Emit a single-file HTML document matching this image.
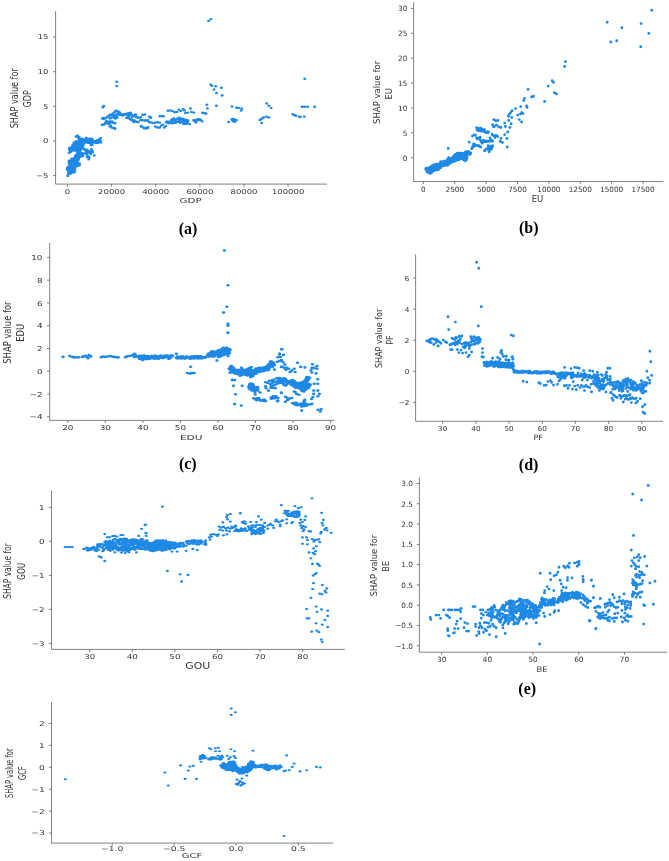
<!DOCTYPE html>
<html><head><meta charset="utf-8"><title>SHAP dependence plots</title>
<style>
html,body{margin:0;padding:0;background:#fff}
svg{display:block}
.t{font-family:"DejaVu Sans","Liberation Sans",sans-serif;fill:#333}
.c{font-family:"Liberation Serif","Times New Roman",serif;font-weight:bold;font-size:16px;fill:#000}
.p{stroke:#1e88e5;stroke-linecap:round;fill:none}
.ax{stroke:#4d4d4d;stroke-width:0.7;fill:none}
</style></head><body>
<svg width="669" height="861" viewBox="0 0 669 861">
<rect width="669" height="861" fill="#fff"/>
<g id="plot-a">
<path class="p" transform="scale(1.25,1)" stroke-width="2.4" d="M60.8 136.4h0M62 135.8h0M61.3 136.8h0M63.3 137h0M62.7 138.1h0M64.5 139h0M65.4 138.8h0M68.8 138h0M70 138.9h0M71.6 138.7h0M72.7 139h0M73.1 138.8h0M80.5 138.3h0M63.3 140.1h0M64 139.5h0M65 139.9h0M66.1 139.4h0M67 139.8h0M68.4 139.3h0M69.5 139.8h0M70.6 140.1h0M71.8 139.6h0M73.1 139.6h0M74 139.4h0M77.8 140.2h0M78.9 140.1h0M79.6 139.3h0M60.8 141.3h0M62.6 141.4h0M63.7 140.4h0M64.6 141.2h0M65.9 141.4h0M66.6 141h0M67.7 140.6h0M69.1 141.2h0M70 140.8h0M71.2 140.5h0M72.8 140.9h0M73.2 141.2h0M74.8 141h0M75.9 141.4h0M76.5 141.2h0M78 140.9h0M78.8 140.7h0M80.3 140.7h0M59.2 142.7h0M60.7 142.1h0M62 142.2h0M63.1 142.6h0M64.2 142.7h0M64.9 141.9h0M66.4 142.7h0M67.1 141.8h0M68.2 142.4h0M69.9 141.9h0M70.5 142.1h0M71.5 141.7h0M72.8 142h0M74.2 141.6h0M75.1 142.2h0M76.4 142.7h0M77.5 141.7h0M78.7 141.7h0M80 141.7h0M80.7 142.5h0M59.1 143.6h0M59.8 143.5h0M60.9 143.8h0M62 143.9h0M63.3 143.6h0M64.6 143.5h0M65.5 143h0M67 143.7h0M70.5 142.9h0M72.3 143.2h0M73.5 143.7h0M78.2 143h0M58.4 144.7h0M59.9 144.8h0M60.9 144.6h0M61.9 144.1h0M63 144.6h0M63.9 144.3h0M64.7 144.6h0M66.2 144.7h0M72.8 145h0M73.7 145h0M58 145.7h0M59.3 146.1h0M59.9 145.9h0M60.9 145.3h0M62.6 145.4h0M63.2 145.5h0M64.5 145.5h0M65.3 145.5h0M66.4 145.3h0M57.4 147.5h0M58.8 147h0M59.9 147.5h0M60.5 147.2h0M61.4 146.8h0M62.5 146.9h0M64.1 147.5h0M65.3 147.3h0M66.3 147.5h0M55.6 147.8h0M56.8 148h0M57.5 148.4h0M59.8 148.3h0M61.4 148.4h0M62.3 147.9h0M63.1 148.6h0M64.1 148.8h0M66 147.8h0M55.4 149.7h0M56.6 149.6h0M57.3 149.4h0M58.7 150h0M61 149.2h0M61.5 149h0M62.7 149.5h0M63.6 149.7h0M65 149.3h0M57 151.2h0M57.5 150.2h0M58.8 150.2h0M59.7 150.5h0M61.4 150.6h0M61.9 150.6h0M63.6 151.1h0M64.3 150.3h0M56.2 151.9h0M61.9 151.6h0M62.6 151.8h0M63.8 151.7h0M55.3 152.8h0M62 152.7h0M63.8 152.7h0M65.4 153h0M66.8 153.4h0M60.7 154.9h0M62.1 154.7h0M63.3 154.1h0M64 154.6h0M66.2 154.3h0M60.3 155.9h0M61.5 155.5h0M62 156h0M63.4 156h0M64.3 155.9h0M65.3 155h0M66.3 155.9h0M60.4 157.2h0M61.8 156.9h0M63.1 157.2h0M64.2 156.5h0M65 156.6h0M59.3 158h0M59.9 158.4h0M62.2 158.5h0M63.1 158.2h0M57.3 158.8h0M58.4 158.9h0M59.2 158.8h0M61 159.6h0M61.7 158.7h0M62.7 159.7h0M55.3 160.6h0M56.9 160.4h0M58.1 160.7h0M58.5 160.5h0M60.4 160.1h0M61.6 160.7h0M62.5 160.1h0M55.1 161.8h0M55.7 161.1h0M57 161.7h0M58.6 161.8h0M59.7 161.7h0M60.5 161.2h0M61.7 161.2h0M56.3 162.4h0M58.2 162.8h0M59 162.8h0M60.2 162.4h0M61.4 162.6h0M62.1 162.7h0M63.6 163.4h0M55.4 163.8h0M56.9 164.4h0M58.1 164.2h0M59.3 164.5h0M60.6 163.7h0M62 164h0M62.8 164.6h0M63.6 164.6h0M56 165h0M56.5 165.5h0M58.2 165.2h0M59.1 165.4h0M59.7 165.4h0M61.5 165.1h0M62.2 164.9h0M63.5 165.2h0M54.7 166.8h0M57.4 166.9h0M58 167h0M59.1 166.9h0M60.8 166h0M61.9 166h0M53.7 168h0M54.4 168.2h0M55.3 167.3h0M56.8 167.6h0M58 167.7h0M59 167.9h0M60.1 167.7h0M54.7 169.3h0M55.9 169.2h0M56.9 169.2h0M58.8 168.6h0M59.3 169.4h0M53.7 169.6h0M54.5 169.8h0M55.6 170.7h0M56.8 170.6h0M57.5 170.5h0M59.4 170.5h0M59.8 170.3h0M54.8 171.9h0M56.1 171.7h0M57.3 171h0M58.6 171.7h0M59.8 170.9h0M55.2 172.8h0M56.5 173h0M57.8 172.2h0M59.3 172.6h0M54.7 174.3h0M56.6 173.5h0M54.4 175.2h0M54.2 175.9h0M67.5 149.2h0M69.7 149.6h0M73.2 149.3h0M68.6 150.5h0M69.7 151.3h0M71.3 151.2h0M72.7 151.4h0M74.1 151.2h0M68.9 152.5h0M70.4 152.6h0M72.3 153h0M74 152.4h0M69 154.2h0M69.6 154.4h0M72.7 154.1h0M70.6 156.2h0M75.4 155.5h0M69.7 157h0M71.4 157.4h0M71 159.3h0M82.3 107.4h0M83 106h0M81.8 118.5h0M83.2 119.1h0M84.7 117.9h0M86.1 116.7h0M87.5 115.5h0M89 114.9h0M90.4 113.8h0M91.8 112h0M93.3 111h0M94.7 111.4h0M95.7 112.6h0M94.2 113.8h0M92.8 114.9h0M91.4 116.1h0M89.9 117.3h0M88.5 117.9h0M91.8 117.9h0M93.7 117.3h0M95.7 114.9h0M97.6 114.9h0M99.5 114.9h0M101.4 114.3h0M103.3 113.8h0M104.7 113.2h0M101.4 117.9h0M103.3 117.9h0M104.7 119.1h0M106.2 120.3h0M107.1 122.1h0M105.7 116.7h0M81.8 125.1h0M83.2 124.5h0M84.7 123.3h0M86.1 122.1h0M87.5 121.5h0M89 122.1h0M90.4 122.7h0M91.8 123.3h0M85.1 120.9h0M87 123.9h0M88.5 125.7h0M89.4 127.5h0M90.9 128.1h0M91.8 128.7h0M82.5 118h0M82.6 118.8h0M86.3 116.7h0M87.5 115.1h0M88.4 114.6h0M90.1 113.6h0M92.7 110.7h0M95.8 112.4h0M94 114h0M93 115.5h0M90.8 115.5h0M88 118.6h0M92.2 118.5h0M93.5 117.9h0M96 114.4h0M97.9 115.6h0M99.5 114.5h0M101.4 114.4h0M103.9 113.8h0M104.3 112.8h0M101.2 117.6h0M103.1 118.4h0M104.3 119h0M106.4 121h0M107.5 121.8h0M106.1 116.5h0M81.7 124.7h0M83.1 124.4h0M84.4 122.7h0M85.5 122.2h0M88 121.5h0M89.7 121.5h0M89.9 122.6h0M92.2 123.1h0M87.5 123.5h0M87.8 126.4h0M90.1 127.6h0M91.6 128h0M92 128.7h0M93.4 81.7h0M93.4 86.1h0M82.4 106.6h0M83 105.9h0M97.3 114.8h0M99.1 114.1h0M100.9 113.6h0M102.7 113.3h0M104.5 113h0M101.5 117.8h0M103.3 115.6h0M105.1 114.8h0M106.9 115.6h0M108.7 114.8h0M108.7 117.1h0M110.5 117.8h0M112.3 117.5h0M114.1 114.8h0M115.9 114.5h0M119.5 116.6h0M120.7 117.5h0M105.1 120.1h0M106.9 120.8h0M108.7 121.6h0M110.5 122h0M112.3 120.1h0M114.1 120.1h0M115.9 120.5h0M117.7 120.8h0M112.9 126.5h0M114.7 127.5h0M116.5 128h0M118.3 128h0M119.5 122.3h0M121.3 122.6h0M97.2 114.3h0M100.9 114.2h0M102.8 113.5h0M104.3 113.3h0M101.8 117.3h0M102.8 115.6h0M107.3 115.4h0M108.1 114.5h0M109 117h0M110.2 117.4h0M112.7 117.1h0M119.3 116.6h0M120.5 118.1h0M105.3 119.5h0M107.5 120.4h0M108.1 121.6h0M109.9 122h0M113.9 120.3h0M116 120.1h0M118.3 120.2h0M113 126h0M115.4 128.3h0M116.8 128.6h0M118.4 127.3h0M119.7 122.4h0M120.7 122.4h0M122.5 123.1h0M124.2 122.6h0M126 122.3h0M127.8 122.6h0M124.2 126.5h0M126 127.5h0M127.8 127.5h0M129 125.6h0M130.2 124.6h0M127.8 116.3h0M129.6 116h0M130.8 116.3h0M131.4 127.5h0M132.6 126.1h0M143.1 117.6h0M144 117.9h0M137.7 119.4h0M139 118.5h0M139.9 119.4h0M141.4 119h0M142 118.6h0M145.9 118.8h0M147.1 119.3h0M137.2 120h0M139.2 120.2h0M140.4 120h0M143.3 120.4h0M143.9 119.8h0M145.5 120.7h0M146.7 120.6h0M147.8 120.6h0M149 120h0M150.3 120.5h0M134 121.5h0M135.2 121.9h0M136.4 121.8h0M137.3 122h0M139.8 121.6h0M141.3 122.1h0M142.4 121.8h0M143.1 121.9h0M144.8 121.5h0M146.1 121.7h0M146.6 121.1h0M148.4 121.2h0M149.5 121h0M150.4 121h0M132.9 122.3h0M134.3 123h0M135.4 123.3h0M136.7 122.6h0M137.7 123.3h0M138.8 123h0M140.5 122.7h0M144.2 122.7h0M146.9 123h0M148 122.3h0M148.9 123h0M150.1 123.3h0M146.8 123.9h0M148.7 123.9h0M134.4 110.7h0M136.2 110.4h0M138 111.1h0M139.8 112.2h0M141.6 111.9h0M143.1 109.6h0M144.6 111.1h0M146.4 109.2h0M147.6 110.4h0M148.4 113h0M150.3 112.6h0M152.3 108.6h0M153.2 111.9h0M155.1 112.6h0M155.3 120.8h0M157.1 121.6h0M158.3 119.3h0M159.5 120.1h0M151.7 124.1h0M177.7 95.5h0M165.5 104.7h0M165.9 108.4h0M173.1 105.8h0M185.6 106.5h0M189.2 107.8h0M190.9 107.9h0M193.4 108.4h0M193 110.5h0M152.4 108.4h0M162 112.8h0M163.7 113h0M164.8 113.8h0M154.9 120.1h0M156.6 119.9h0M157.8 119.6h0M159.5 119.3h0M160.7 119.9h0M161.6 121.2h0M156.6 122.4h0M182.9 122h0M185.4 119.1h0M186.7 118.9h0M187.9 119.6h0M189.2 120.1h0M186.7 121.2h0M187.9 121.7h0M185.9 120.6h0M166.9 20.9h0M168.7 19.1h0M168.7 84.8h0M169.6 85.7h0M172.6 86.3h0M177.1 87.7h0M171.2 89.5h0M173.2 93h0M177.8 95.3h0M243.8 78.7h0M213.3 103.4h0M215.1 105.8h0M216.9 108.1h0M241.7 106.7h0M243.8 106.7h0M246.2 106.7h0M251.7 106.7h0M234.2 114.3h0M235.6 115.2h0M236.7 115.7h0M239.2 116.6h0M240.3 117h0M243.5 116.6h0M208 120h0M209.4 118.8h0M210.8 117.5h0M213 116.6h0M215.1 117.5h0M209.4 122.9h0"/>
<path class="ax" d="M55.6 11.2V184.1H327M67.4 184.1v2.6M111.6 184.1v2.6M155.7 184.1v2.6M199.9 184.1v2.6M244 184.1v2.6M288.1 184.1v2.6M55.6 37h-2.6M55.6 71.7h-2.6M55.6 106.3h-2.6M55.6 141h-2.6M55.6 175.6h-2.6"/>
<text class="t" font-size="6.7" text-anchor="middle" transform="translate(67.4,194) scale(1.27,1)">0</text><text class="t" font-size="6.7" text-anchor="middle" transform="translate(111.6,194) scale(1.27,1)">20000</text><text class="t" font-size="6.7" text-anchor="middle" transform="translate(155.7,194) scale(1.27,1)">40000</text><text class="t" font-size="6.7" text-anchor="middle" transform="translate(199.9,194) scale(1.27,1)">60000</text><text class="t" font-size="6.7" text-anchor="middle" transform="translate(244,194) scale(1.27,1)">80000</text><text class="t" font-size="6.7" text-anchor="middle" transform="translate(288.1,194) scale(1.27,1)">100000</text><text class="t" font-size="6.7" text-anchor="end" transform="translate(48.5,39.4) scale(1.27,1)">15</text><text class="t" font-size="6.7" text-anchor="end" transform="translate(48.5,74.1) scale(1.27,1)">10</text><text class="t" font-size="6.7" text-anchor="end" transform="translate(48.5,108.7) scale(1.27,1)">5</text><text class="t" font-size="6.7" text-anchor="end" transform="translate(48.5,143.4) scale(1.27,1)">0</text><text class="t" font-size="6.7" text-anchor="end" transform="translate(48.5,178) scale(1.27,1)">−5</text>
<text class="t" font-size="7.4" text-anchor="middle" transform="translate(190.6,203.4) scale(1.4,1)">GDP</text>
<text class="t" font-size="8.1" text-anchor="middle" transform="translate(18.1,98.3) scale(1.27,1) rotate(-90)">SHAP value for</text>
<text class="t" font-size="8.1" text-anchor="middle" transform="translate(30.7,98.8) scale(1.27,1) rotate(-90)">GDP</text>
<text class="c" text-anchor="middle" x="188" y="233.5">(a)</text>
</g>
<g id="plot-b">
<path class="p" transform="scale(1,1)" stroke-width="2.9" d="M465.6 151.6h0M467.9 151.8h0M468.6 151.5h0M457.1 153.4h0M458.3 153.1h0M459.3 153.1h0M461.5 153.2h0M462.2 153.2h0M464.3 153.4h0M465.3 153.4h0M466.4 152.5h0M468.6 153.3h0M469.9 153.5h0M470.8 153h0M455.2 154.6h0M456.4 154.2h0M457.9 154.1h0M459 154.6h0M460.9 154.6h0M461.9 154.6h0M462.9 153.7h0M464.2 153.9h0M466.3 154.5h0M467.1 154.4h0M470 154.6h0M454.6 155.3h0M455.6 155.8h0M456.6 155.4h0M457.9 155h0M459.4 155.2h0M461.5 155.1h0M462.2 155.2h0M463.7 154.8h0M465.4 155h0M467.2 154.9h0M453.2 156.7h0M455.1 156.8h0M456.7 156.5h0M458.2 156.2h0M459.2 156.1h0M460.9 156.7h0M462.2 156.2h0M463.3 157h0M465 156.7h0M466.3 156.8h0M467 156.2h0M448.6 157.8h0M449.6 158.2h0M451.9 158.3h0M454.1 157.5h0M456.1 157.5h0M458 158.2h0M460.2 158h0M461.6 157.8h0M462 157.8h0M463.8 157.4h0M465.2 158.2h0M467 158.2h0M448.4 158.8h0M449.1 159.1h0M450.3 158.6h0M452.5 159h0M453.9 159.6h0M454.5 158.7h0M456.1 158.6h0M457.4 159.1h0M459.3 158.9h0M460.5 158.9h0M462.9 159h0M465.1 158.7h0M465.8 158.9h0M447.3 159.7h0M448.5 160.7h0M450.4 160.2h0M451.1 160.7h0M452.6 159.7h0M454.4 160.1h0M455.8 160.7h0M456.5 160.1h0M458.6 159.9h0M463.7 159.9h0M465.1 160.7h0M466.4 159.9h0M440.7 161.8h0M443.6 161.3h0M444.7 161.3h0M446 161.4h0M448.2 160.9h0M448.8 161.9h0M450.9 161.9h0M451.8 162h0M453.2 161.7h0M454.6 160.9h0M440.5 162.4h0M441.4 162.9h0M442.7 162.4h0M444.8 162.8h0M445.7 163.2h0M446.9 163h0M449.1 162.2h0M450.3 163h0M450.9 162.4h0M436.3 164.1h0M437.5 164.3h0M439.8 163.8h0M440.8 163.5h0M442.3 164h0M443.2 164h0M445.1 163.5h0M446.5 164.4h0M448.9 163.5h0M434.1 164.7h0M435.5 165h0M436.9 165.3h0M439 165.4h0M439.7 165.1h0M442.1 164.7h0M443.5 165.4h0M444 165.6h0M446.8 165.4h0M448.1 164.9h0M431.6 166.4h0M432.3 165.8h0M433.5 166.5h0M435.3 166.8h0M436.4 166.5h0M437.5 166.2h0M439.3 166h0M441 166h0M442.2 165.9h0M443.4 165.9h0M429.2 167.8h0M430.6 167.3h0M431.7 167.9h0M434.3 168h0M435.7 167.3h0M437.9 167.8h0M439.2 167.4h0M440.6 167.7h0M425.8 168.4h0M426.8 168.2h0M428 169h0M429.5 169.3h0M431.5 168.9h0M432.4 168.7h0M433.7 169h0M435 169.2h0M437 168.4h0M438.9 168.8h0M425.9 169.6h0M427.8 170.4h0M428.6 169.7h0M430.4 169.6h0M431.4 170.5h0M432.7 170.5h0M434.4 170.5h0M436.2 169.9h0M437.5 169.5h0M438.6 169.5h0M427.1 171.2h0M428.6 171.2h0M430.2 170.9h0M431 171.5h0M433 171h0M433.6 171.1h0M427.3 172h0M428.7 172.7h0M430 172.9h0M431.4 172.8h0M430 173.4h0M448.2 148.5h0M469.2 142.1h0M472.4 136.1h0M474.2 134.9h0M475.4 135.3h0M476.6 137.9h0M477.2 139.1h0M479 137.9h0M480.2 137.3h0M476.6 127.8h0M477.8 129h0M479 128.4h0M480.8 128.1h0M482 129h0M477.2 130.2h0M479 130.8h0M480.8 130.5h0M482.6 130.2h0M483.8 131.4h0M485.6 132h0M487.3 132h0M488.5 132h0M484.4 129.6h0M481.4 140.9h0M482.6 142.1h0M484.4 141.5h0M486.2 140.9h0M487.9 141.5h0M489.7 140.9h0M491.5 140.3h0M490.1 137.9h0M480.8 141.5h0M473.6 143.9h0M474.8 144.5h0M473 145.7h0M474.2 146.3h0M472.4 147.5h0M471.8 148.7h0M476 145.1h0M477.2 145.7h0M479 145.7h0M480.2 146.9h0M485 150.5h0M486.5 149.3h0M487.9 148.7h0M489.1 151.7h0M490.3 149.9h0M489.7 147.5h0M491.5 146.9h0M492.5 145.7h0M488.2 145.7h0M491.5 148.7h0M492.7 124.8h0M493.3 126.6h0M492.1 134.3h0M493.3 135.5h0M552.2 80.8h0M553.5 82.3h0M548.2 86.1h0M554.4 92.7h0M556.5 93.9h0M544.6 101.4h0M528.1 89.4h0M531.6 96.9h0M533.5 96.2h0M524.5 98.4h0M523.6 100.6h0M520.7 106.6h0M526.6 105.9h0M527.1 107.4h0M515.6 108.6h0M521.9 112.6h0M523 113.6h0M520.4 114.1h0M517.7 115.1h0M512.1 110.7h0M510.6 112.6h0M509.1 114.5h0M508.4 116.3h0M511.7 117.5h0M519.2 119.6h0M521.6 122h0M508.7 120.5h0M493.8 119.6h0M495.7 120.8h0M497.9 120.5h0M492.7 124.6h0M494.2 126.8h0M496.4 125h0M498.7 126.8h0M500.9 127.5h0M504.7 123.1h0M505.4 126.5h0M511.1 123.8h0M509.9 127.5h0M507.7 132h0M504.7 134.6h0M506.9 138.5h0M507.2 147h0M480.7 129h0M482.2 130.5h0M484.2 131.6h0M486 132.8h0M488.2 132.5h0M481.5 131.3h0M492 134.6h0M494.2 135.8h0M496.1 135.5h0M497.6 136.5h0M494.9 137.6h0M490.2 138.5h0M500.9 138.5h0M500.2 141.4h0M502.4 142.5h0M480 139.5h0M481.5 141.4h0M483.7 140.3h0M486 141.7h0M488.2 141.4h0M490.5 141.4h0M482.2 143.2h0M492.7 141h0M486 149.2h0M488.2 147.7h0M490.5 146.5h0M492.7 145.9h0M490.5 148.5h0M489 151.5h0M484.5 150.7h0M480.7 147h0M492 147.7h0M651.7 10.3h0M607.2 22.2h0M621.9 27.7h0M641.1 23.6h0M648.8 33.4h0M616.7 40.7h0M610.8 42h0M640.7 46.8h0M565.4 61.6h0M564.6 66.5h0"/>
<path class="ax" d="M413.6 2.2V181.5H663.4M423.4 181.5v2.6M454.8 181.5v2.6M486.2 181.5v2.6M517.5 181.5v2.6M548.9 181.5v2.6M580.3 181.5v2.6M611.6 181.5v2.6M643 181.5v2.6M413.6 8.4h-2.6M413.6 33.2h-2.6M413.6 58.1h-2.6M413.6 83h-2.6M413.6 107.9h-2.6M413.6 132.8h-2.6M413.6 157.8h-2.6"/>
<text class="t" font-size="7.3" text-anchor="middle" transform="translate(423.4,191.7) scale(1,1)">0</text><text class="t" font-size="7.3" text-anchor="middle" transform="translate(454.8,191.7) scale(1,1)">2500</text><text class="t" font-size="7.3" text-anchor="middle" transform="translate(486.2,191.7) scale(1,1)">5000</text><text class="t" font-size="7.3" text-anchor="middle" transform="translate(517.5,191.7) scale(1,1)">7500</text><text class="t" font-size="7.3" text-anchor="middle" transform="translate(548.9,191.7) scale(1,1)">10000</text><text class="t" font-size="7.3" text-anchor="middle" transform="translate(580.3,191.7) scale(1,1)">12500</text><text class="t" font-size="7.3" text-anchor="middle" transform="translate(611.6,191.7) scale(1,1)">15000</text><text class="t" font-size="7.3" text-anchor="middle" transform="translate(643,191.7) scale(1,1)">17500</text><text class="t" font-size="7.3" text-anchor="end" transform="translate(407.4,11.1) scale(1,1)">30</text><text class="t" font-size="7.3" text-anchor="end" transform="translate(407.4,35.9) scale(1,1)">25</text><text class="t" font-size="7.3" text-anchor="end" transform="translate(407.4,60.8) scale(1,1)">20</text><text class="t" font-size="7.3" text-anchor="end" transform="translate(407.4,85.7) scale(1,1)">15</text><text class="t" font-size="7.3" text-anchor="end" transform="translate(407.4,110.6) scale(1,1)">10</text><text class="t" font-size="7.3" text-anchor="end" transform="translate(407.4,135.5) scale(1,1)">5</text><text class="t" font-size="7.3" text-anchor="end" transform="translate(407.4,160.5) scale(1,1)">0</text>
<text class="t" font-size="8.5" text-anchor="middle" transform="translate(537.5,202.1) scale(1,1)">EU</text>
<text class="t" font-size="8.5" text-anchor="middle" transform="translate(380.4,92.4) scale(1,1) rotate(-90)">SHAP value for</text>
<text class="t" font-size="8.5" text-anchor="middle" transform="translate(391.9,93.7) scale(1,1) rotate(-90)">EU</text>
<text class="c" text-anchor="middle" x="528.7" y="233">(b)</text>
</g>
<g id="plot-c">
<path class="p" transform="scale(1.3077,1)" stroke-width="2.6" d="M48.2 356.9h0M53.3 356h0M55.4 356.9h0M56.8 357.4h0M58.8 357.3h0M60.2 357.3h0M62.9 356.9h0M64.3 356.4h0M65.4 355.7h0M66.6 356.9h0M67.3 358.3h0M68.1 355.1h0M69.5 356.4h0M77.3 357.3h0M78.7 356.5h0M80.1 356.9h0M82.1 356.5h0M84.2 356h0M85.6 356.5h0M87.3 356.9h0M89.3 357.3h0M90.4 357.4h0M95.8 357.3h0M97.2 356.4h0M98.6 356h0M100.6 355.5h0M102 354.8h0M103.4 354.2h0M104.1 356h0M102.7 356.9h0M105.4 356.9h0M106.8 357.8h0M108.2 358.7h0M108.9 360.1h0M106.6 358.8h0M106.6 355.9h0M107.1 358.1h0M107.4 356.6h0M107.6 357.6h0M107.9 356.1h0M108.2 356.9h0M108.5 359h0M108.9 357.4h0M109 356.5h0M109.2 355.7h0M109.6 356.6h0M109.9 358.6h0M110.2 357.5h0M110.4 355.6h0M110.7 356h0M111.1 358.9h0M111.4 356.2h0M111.8 358.2h0M112 358.6h0M112.3 358.2h0M112.5 358.9h0M112.9 356.1h0M113.2 358h0M113.4 357.3h0M113.7 358.7h0M113.9 358.3h0M114.2 358.5h0M114.6 357.1h0M114.8 358.6h0M115.2 357.2h0M115.3 356.6h0M115.7 356.1h0M116.1 356.4h0M116.4 356.5h0M116.7 357.9h0M116.8 357.2h0M117.2 357.5h0M117.4 356.2h0M117.7 358.6h0M118 355.7h0M118.4 357.9h0M118.7 356.1h0M118.9 355.7h0M119.2 356.4h0M119.4 358.4h0M119.6 357.2h0M120.1 356.3h0M120.2 358.4h0M120.6 357.9h0M120.7 356.7h0M121.1 357.7h0M121.3 358.7h0M121.6 357.9h0M121.9 356.3h0M122.4 355.9h0M122.5 357.8h0M122.9 355.6h0M123.3 355.9h0M123.3 356.6h0M123.8 357.9h0M123.9 356.5h0M124.2 356.9h0M124.7 357.9h0M125 358h0M125.3 357.8h0M125.5 356.1h0M125.8 356.4h0M126 356.9h0M126.5 355.8h0M126.7 356.7h0M127 355.9h0M127.4 356.2h0M127.6 356.8h0M127.7 357.3h0M128 355.5h0M128.3 355.9h0M128.6 357.5h0M129 358.7h0M129.4 358.7h0M129.5 356.8h0M129.8 357.3h0M130.2 358h0M130.5 356.2h0M130.7 357.1h0M130.9 355.4h0M131.3 355.7h0M131.6 356.1h0M131.7 355.9h0M132.1 356h0M134.7 357.7h0M135.2 357.8h0M135.7 356.5h0M135.8 358.4h0M136.4 356.9h0M137.1 357.5h0M137.4 357.5h0M137.8 356.7h0M138.2 358.4h0M138.6 358.1h0M139 356.5h0M139.5 357.7h0M139.7 356.4h0M140.4 357.4h0M140.7 358.4h0M141.1 358.5h0M141.4 358.2h0M141.9 358.5h0M142.5 356.5h0M142.6 356.8h0M143.3 357.3h0M143.6 357h0M144 357.2h0M144.3 357.6h0M144.8 358.4h0M145.3 358.4h0M145.8 358.6h0M146.1 356.6h0M146.6 358.5h0M147.1 357.5h0M147.4 356.7h0M147.9 357.5h0M148.1 356.3h0M148.7 358.5h0M148.8 358.1h0M149.4 356.5h0M149.7 358h0M150.4 356.2h0M150.7 356.2h0M151.2 356.9h0M151.6 358.5h0M151.9 358.5h0M152.2 356.3h0M152.8 356.2h0M153 357.1h0M153.6 356.4h0M153.8 358.1h0M154.3 358.4h0M155 357h0M155.2 357.3h0M155.7 357.5h0M156.1 357.5h0M156.7 357.2h0M156.9 357.7h0M157.2 356.7h0M102.8 353.9h0M134.8 353.7h0M174.2 332.7h0M165.9 360.5h0M145.8 366.8h0M143.3 373h0M145.4 373.6h0M146.7 373h0M148.5 373h0M170.3 348.3h0M171.1 347.8h0M172.8 348.4h0M173.5 347.9h0M174.3 348.5h0M168.5 350h0M169.6 349h0M170.7 349.7h0M171.6 349.5h0M173.5 349.1h0M175.2 349.2h0M175.9 349.4h0M162.5 351.2h0M166.4 351h0M166.9 350.4h0M168.6 351.2h0M169.5 351h0M170.7 350.7h0M171.6 350.4h0M174 350.9h0M175.9 350.2h0M161.6 351.5h0M162.6 352.3h0M163.8 351.6h0M164.4 352.3h0M165.6 351.9h0M166.3 352h0M168 352h0M168.7 352.2h0M169.5 352.3h0M170.6 352h0M172.3 351.7h0M173.1 352.4h0M173.8 352h0M175.2 351.8h0M159.6 353.5h0M161.1 352.8h0M161.8 353h0M163.3 353.4h0M163.8 353.2h0M165.2 353.1h0M165.9 353.5h0M167.4 353.7h0M168.4 353.3h0M169.7 353.1h0M170.2 353.5h0M171.6 353.1h0M172.8 353h0M173.3 352.7h0M174.9 352.8h0M175.6 353.2h0M158.9 354.5h0M160.1 353.8h0M161.7 354.7h0M162.6 354.8h0M163.5 354.3h0M165.3 354.5h0M166.9 354.5h0M167.6 354.8h0M168.9 354.8h0M169.7 354.1h0M171 354.9h0M171.9 354.2h0M172.9 354.3h0M173.9 354.4h0M159 356h0M159.5 355.1h0M160.5 356h0M162.1 355.2h0M162.7 356.1h0M164.2 355.8h0M165.4 355.3h0M165.8 355.1h0M167 355.2h0M168.7 355.3h0M169.5 355.8h0M174.4 355.9h0M159.5 356.6h0M160.2 356.3h0M162.1 356.4h0M163.7 356.5h0M167.1 357h0M168.1 356.7h0M171.6 250.5h0M174.3 285.3h0M173.5 306.8h0M171 312.6h0M174.3 323.9h0M174.3 325.7h0M174.3 332.9h0M206.7 361.6h0M207.6 361.6h0M206.8 363h0M208.1 363h0M209 362.6h0M205.1 364.6h0M206.1 364.1h0M207.5 364h0M208.7 364.4h0M209.6 363.8h0M204.5 365.7h0M205.9 364.8h0M207.3 365.9h0M207.5 365.7h0M209.1 365.8h0M209.8 365.1h0M176.3 366.2h0M177 366.1h0M203.5 366.7h0M203.9 367h0M205.5 366.1h0M206.2 366.2h0M207.5 366.4h0M208.2 366.9h0M176 367.6h0M176.5 367.4h0M178.3 367.7h0M178.6 367.7h0M191 367.9h0M192.2 367.3h0M197.1 368.3h0M198.1 367.7h0M199.6 368h0M200.2 367.9h0M202.2 367.3h0M203.6 367.2h0M205.1 367.8h0M205.4 367.3h0M175.2 368.7h0M176 369.5h0M177.4 368.9h0M178.1 368.8h0M179.6 369.4h0M188.8 369.3h0M190.1 368.6h0M191.1 368.5h0M195.4 368.8h0M196.6 368.8h0M197.8 369.4h0M199 369h0M201.2 369.2h0M202.3 368.8h0M202.7 368.6h0M204.3 368.7h0M205.5 369h0M205.9 368.6h0M176 369.7h0M176.6 370.4h0M178.3 370.5h0M178.9 370.6h0M180 370.1h0M182.3 369.7h0M184 370.3h0M185.8 370.1h0M186.3 369.8h0M187.5 370.5h0M190 370.6h0M190.7 369.8h0M191.9 369.7h0M192.6 370.4h0M193.8 370.5h0M195.2 370.6h0M196.4 370h0M197.2 370.3h0M198.2 370h0M199.2 370h0M201.8 370.6h0M202.7 370.2h0M203.5 370.3h0M204.7 369.9h0M205.4 370h0M176.7 371.6h0M177.6 371.5h0M178.5 371.8h0M180 371.4h0M180.2 371.3h0M181.8 371.8h0M182.9 371.3h0M184 371.5h0M184.8 371.8h0M185.8 371.1h0M187.4 371h0M188.3 371.1h0M189.2 371.8h0M190.5 371.3h0M191.4 371.8h0M193.2 370.9h0M194.6 371.5h0M195.4 371.5h0M196.8 371.6h0M198.7 371.8h0M200.3 371.1h0M201.7 371.1h0M175.8 372.8h0M176.5 372.5h0M177.8 372.2h0M178.9 372.8h0M180.5 373.1h0M181.4 372.9h0M181.9 372.6h0M183.5 373.1h0M184.2 372.6h0M185.7 372.7h0M186.4 373h0M187.2 372.5h0M188.8 372.1h0M190.8 372.5h0M191.5 372.5h0M192.5 372.9h0M193.6 372.3h0M195 372.6h0M195.9 373.1h0M197.2 372.2h0M179.7 373.4h0M180.6 373.4h0M182 374.3h0M183.9 373.4h0M185.3 374.3h0M185.7 373.8h0M187.3 373.7h0M189.4 373.4h0M190.4 373.7h0M192.2 373.9h0M193.5 374.1h0M194.5 374.1h0M195.8 373.7h0M183.5 374.8h0M184.5 374.9h0M185.2 374.8h0M187.3 374.6h0M188.9 375.1h0M189.3 375.4h0M191.1 374.5h0M191.5 375.3h0M193 374.7h0M193.7 374.6h0M183.7 375.8h0M192.3 376.4h0M193.3 376.2h0M191.6 377.1h0M184.7 367.9h0M209.9 369.5h0M212 361.8h0M212.4 357.2h0M213.8 353.9h0M215.2 349.3h0M214.5 356.7h0M215.2 360.4h0M215.2 366.9h0M177.6 379.9h0M179.4 380.1h0M178.6 385.8h0M185.2 385.8h0M180.1 394.3h0M179.4 404.1h0M184.5 405.5h0M198.9 392.5h0M212 401.3h0M203.1 382.3h0M204.6 382.7h0M206 380.9h0M208.1 380.4h0M209.5 379.5h0M211.7 378.1h0M213.8 378.1h0M215.2 379h0M212.4 380.9h0M213.8 381.3h0M210.2 381.8h0M208.5 382.7h0M206.7 384.1h0M207.4 386h0M208.8 385.5h0M210.2 385h0M211.7 383.7h0M213.1 383.2h0M214.5 382.7h0M203.1 386.4h0M203.5 388.3h0M205.3 390.6h0M207.1 387.8h0M208.8 387.8h0M210.6 388.3h0M215.2 392.9h0M190.9 384.2h0M191.7 383.6h0M193.2 384h0M190.8 385.2h0M192.2 385.4h0M193.8 385.4h0M190.3 386.5h0M191.9 386.4h0M193.7 386.6h0M195.2 387.2h0M196.8 387.1h0M190.3 387.8h0M191.4 387.7h0M192.6 387.6h0M193.2 388h0M195.6 387.8h0M197.1 387.7h0M190.9 389.1h0M192.2 389.7h0M193 389.1h0M195.1 388.7h0M196 388.7h0M197.2 389.5h0M192.6 390.5h0M193.2 390.4h0M194.8 390.7h0M195.9 390.1h0M197.1 390.5h0M194.9 392.3h0M195.2 394.5h0M208.9 396.2h0M211 396.3h0M207.3 397.9h0M207.8 397.1h0M209.2 397.5h0M210 397.3h0M211.6 397.9h0M193.9 398.2h0M195.2 399.1h0M196 398.6h0M197.3 398.2h0M198.1 398.3h0M207.5 398.7h0M208.4 398.5h0M210.1 398.3h0M195.7 399.8h0M196.4 400.3h0M198 399.8h0M199.2 400.6h0M200.3 400.4h0M201 400h0M202 399.5h0M201.5 400.9h0M203.2 400.9h0M215.8 349.3h0M213.7 353.9h0M216.8 354.9h0M213.3 356.7h0M215.1 360h0M214 360.9h0M216.5 362.3h0M217.9 364.6h0M215.8 366.9h0M217.6 367.9h0M219.3 367.9h0M220.8 368.8h0M218.6 369.7h0M221.8 372h0M223.2 370.6h0M225 368.8h0M225.7 372h0M227.5 362.8h0M230 366.9h0M233.2 367.4h0M238.9 364.3h0M242.4 366h0M238.5 367.9h0M240.3 367.9h0M242.4 368.8h0M237.8 370.2h0M238.5 372.5h0M241.7 373.4h0M243 379.3h0M240.3 383.7h0M243 383.7h0M239.9 390.6h0M243 390.6h0M239.9 393.9h0M244.2 393.9h0M243.1 396.2h0M239.2 397.1h0M238.2 399h0M215.1 392.5h0M225.7 392h0M226.8 393.9h0M228.6 394.8h0M225 391.5h0M212.6 398h0M212.6 400.8h0M218.3 396.7h0M219.7 398h0M221.5 398.5h0M223.2 398h0M220 399.9h0M218.3 401.8h0M230.7 410.6h0M243.1 409.7h0M245.6 409.2h0M244.9 411.5h0M234.7 377h0M236 377.2h0M213.6 378.7h0M215.1 378.9h0M217.1 378.4h0M218.2 378.9h0M234.2 378h0M235.2 378.6h0M236.8 377.8h0M213.6 380h0M214.5 379.3h0M215.5 379.9h0M216.2 379.8h0M218.7 379.4h0M223.9 380h0M233.8 379.7h0M234.8 379.2h0M235.9 379.6h0M213.7 380.7h0M216.3 381.2h0M217.4 381.1h0M218.2 381.3h0M219.4 381.1h0M221 381.4h0M221.5 381.1h0M222.6 380.9h0M224.4 381.4h0M225.3 381.4h0M233.1 380.8h0M234.1 381.2h0M235.2 380.7h0M213 381.9h0M214 381.8h0M215.7 382.6h0M216.5 382.7h0M219.3 382.8h0M219.9 382.2h0M221.4 381.8h0M222.4 382.4h0M223.9 382.4h0M225.8 382.1h0M228.9 382.7h0M231.3 382h0M232.9 382.6h0M233.5 382.2h0M234.8 382.8h0M216.8 384.1h0M219.4 384.1h0M220.6 383.2h0M221.7 383.4h0M223.2 383.4h0M223.7 383.2h0M225.5 383.4h0M226.1 383.4h0M227.6 383.4h0M228.9 383.9h0M229.9 383.3h0M230.8 384h0M232.2 383.6h0M233.1 383.7h0M234.3 383.7h0M235.5 383.5h0M216.9 384.6h0M217.4 385.1h0M218.7 385.4h0M222.6 384.7h0M223.4 385.3h0M225 384.4h0M225.8 385.4h0M227.3 385.3h0M227.8 384.5h0M229.6 385.1h0M230.4 385.1h0M231.7 384.6h0M232.3 384.9h0M233.6 384.8h0M234.8 384.9h0M236 384.6h0M237.4 384.6h0M224.2 385.8h0M225 386.4h0M226.1 386.4h0M228.3 385.9h0M230.1 386.7h0M231.2 385.8h0M232.4 386.4h0M233.3 386.2h0M234.7 386.7h0M235.7 386.7h0M236.7 386.1h0M225.9 387.7h0M226.9 387.4h0M228.1 387.8h0M228.9 388h0M230.5 388h0M231.6 388h0M232.6 387.2h0M234.1 387.9h0M235 387.7h0M235.9 388h0M228.7 388.4h0M229.4 388.4h0M230.8 388.8h0M232.2 389.1h0M233.4 388.7h0M234 388.5h0M230.7 390.2h0M231.6 390.2h0M234 389.6h0M230.8 390.9h0M232.4 391.4h0M233.1 399.9h0M232.5 401h0M225 402.7h0M226.5 402.7h0M232.4 402.1h0M223.7 403.3h0M224.9 403.9h0M225.9 404h0M227 404.2h0M228.4 404h0M230.2 403.8h0M231.8 403.3h0M232.6 403.2h0M234 403.8h0M236.3 404.2h0M237.9 404.2h0M238.6 403.8h0M226.5 405h0M227.3 405.2h0M229.2 404.7h0M230.2 405.2h0M230.7 405.1h0M232.4 404.9h0M233.2 405.2h0M234.2 404.9h0M235.8 404.5h0M230.5 406.4h0M231.8 406.1h0M232.9 406h0M234.4 405.8h0"/>
<path class="ax" d="M49.7 242.8V420.4H334.1M67.8 420.4v2.6M105.3 420.4v2.6M142.9 420.4v2.6M180.4 420.4v2.6M218 420.4v2.6M255.5 420.4v2.6M293.1 420.4v2.6M330.6 420.4v2.6M49.7 257.4h-2.6M49.7 280.2h-2.6M49.7 303h-2.6M49.7 325.7h-2.6M49.7 348.5h-2.6M49.7 371.2h-2.6M49.7 394h-2.6M49.7 416.8h-2.6"/>
<text class="t" font-size="6.8" text-anchor="middle" transform="translate(67.8,429.8) scale(1.3,1)">20</text><text class="t" font-size="6.8" text-anchor="middle" transform="translate(105.3,429.8) scale(1.3,1)">30</text><text class="t" font-size="6.8" text-anchor="middle" transform="translate(142.9,429.8) scale(1.3,1)">40</text><text class="t" font-size="6.8" text-anchor="middle" transform="translate(180.4,429.8) scale(1.3,1)">50</text><text class="t" font-size="6.8" text-anchor="middle" transform="translate(218,429.8) scale(1.3,1)">60</text><text class="t" font-size="6.8" text-anchor="middle" transform="translate(255.5,429.8) scale(1.3,1)">70</text><text class="t" font-size="6.8" text-anchor="middle" transform="translate(293.1,429.8) scale(1.3,1)">80</text><text class="t" font-size="6.8" text-anchor="middle" transform="translate(330.6,429.8) scale(1.3,1)">90</text><text class="t" font-size="6.8" text-anchor="end" transform="translate(42.5,259.9) scale(1.3,1)">10</text><text class="t" font-size="6.8" text-anchor="end" transform="translate(42.5,282.7) scale(1.3,1)">8</text><text class="t" font-size="6.8" text-anchor="end" transform="translate(42.5,305.5) scale(1.3,1)">6</text><text class="t" font-size="6.8" text-anchor="end" transform="translate(42.5,328.2) scale(1.3,1)">4</text><text class="t" font-size="6.8" text-anchor="end" transform="translate(42.5,351) scale(1.3,1)">2</text><text class="t" font-size="6.8" text-anchor="end" transform="translate(42.5,373.7) scale(1.3,1)">0</text><text class="t" font-size="6.8" text-anchor="end" transform="translate(42.5,396.5) scale(1.3,1)">−2</text><text class="t" font-size="6.8" text-anchor="end" transform="translate(42.5,419.3) scale(1.3,1)">−4</text>
<text class="t" font-size="7.3" text-anchor="middle" transform="translate(191.2,440.1) scale(1.45,1)">EDU</text>
<text class="t" font-size="8.4" text-anchor="middle" transform="translate(11,332.6) scale(1.3,1) rotate(-90)">SHAP value for</text>
<text class="t" font-size="8.4" text-anchor="middle" transform="translate(23.8,332.8) scale(1.3,1) rotate(-90)">EDU</text>
<text class="c" text-anchor="middle" x="187.8" y="468.5">(c)</text>
</g>
<g id="plot-d">
<path class="p" transform="scale(1,1)" stroke-width="2.9" d="M481.3 306.7h0M448 316.7h0M455.4 322.1h0M448.7 329.6h0M478.3 325.9h0M511.2 335.1h0M513.4 335.9h0M426.7 341.1h0M428.7 340.4h0M430.5 339.2h0M432.3 338.6h0M434.2 339.2h0M435.7 340.1h0M437.6 340.7h0M439.4 341.9h0M440.9 343.3h0M438.2 346h0M433.8 344.5h0M431.2 342.6h0M429.3 342.2h0M443.2 340.1h0M445.4 341.9h0M446.9 342.6h0M436.1 342.6h0M452.1 338.1h0M454.4 338.9h0M456.6 338.1h0M458.9 336.6h0M461.9 335.9h0M460.4 339.2h0M458.1 341.1h0M455.9 341.9h0M453.6 343.3h0M451.4 344.1h0M449.9 344.8h0M455.1 344.8h0M457.4 343.3h0M459.6 342.6h0M461.9 344.1h0M464.1 343.3h0M466.3 342.6h0M468.6 343.3h0M470.8 341.9h0M473.1 341.1h0M475.3 340.4h0M477.5 339.6h0M479 338.1h0M480.5 339.6h0M479.8 341.9h0M478.3 343.3h0M476.1 343.3h0M473.8 344.1h0M471.6 344.8h0M469.3 346.3h0M467.1 344.8h0M464.8 345.6h0M463.3 347.1h0M470.8 336.6h0M473.8 336.6h0M476.5 338.1h0M472 339.2h0M450.6 349.6h0M452.1 349.6h0M457.4 349.6h0M461.1 350.1h0M458.9 352.6h0M462.6 353.1h0M466 352.6h0M469.3 348.6h0M471.6 352h0M469.3 355.3h0M468.1 356.8h0M464.8 347.8h0M478.6 337.4h0M482.5 348.6h0M482.5 352.6h0M482 356.8h0M483.5 357.1h0M492.5 358.3h0M497.7 357.5h0M500 359h0M501.5 350.5h0M500.7 352.3h0M501.9 353.8h0M503.4 356.5h0M506.4 356.1h0M505.9 359.8h0M508.9 360.2h0M512.4 356.8h0M513 359h0M513.4 369.5h0M514.9 371.7h0M517.2 372.5h0M519.4 371.7h0M452.8 338.9h0M454.9 339.2h0M455.8 337.4h0M459.4 336.2h0M461.5 336.4h0M459.1 340.4h0M451.8 344.2h0M457.4 344h0M459.2 341.9h0M465.1 342.8h0M472.8 340.4h0M475 341.1h0M478.1 340.2h0M479.2 338.8h0M480.3 339.2h0M479.2 342h0M478.4 342.8h0M476.9 343.1h0M474.6 344.2h0M470.6 345.2h0M469.3 346h0M467.5 344.5h0M465.8 346.2h0M471 336.9h0M474.3 337.4h0M476.3 337.6h0M471.3 338.5h0M429.4 340.4h0M436.5 339.4h0M438.3 340.9h0M430.4 341.9h0M484 362.4h0M484.5 362.5h0M486.7 361.9h0M487.6 362.3h0M490.5 361.6h0M491.1 361.5h0M492.6 362.1h0M493.9 362.3h0M495.8 361.6h0M498.6 361.8h0M499.3 361.9h0M483.9 362.8h0M487.3 363.3h0M489.2 363.4h0M491.2 363.3h0M491.9 363.4h0M493.3 363.3h0M495.1 362.9h0M496 362.7h0M497.6 362.7h0M498.8 363.3h0M501.9 363.4h0M502.6 362.7h0M505.2 363.3h0M509 362.7h0M511.4 363.4h0M512.9 363h0M485.2 364.4h0M486 364.5h0M489.3 364.6h0M490.5 364.4h0M491.9 363.9h0M492.4 364.5h0M494 364.6h0M495.7 364.8h0M496.4 364.1h0M498 364h0M499.8 364.3h0M500.8 364.5h0M502.3 364.7h0M504.1 364.2h0M504.9 364h0M506.8 364.7h0M508.3 364.1h0M509.1 364.1h0M510.4 364.5h0M513.1 363.9h0M484.4 365.6h0M485.8 365h0M486.8 365h0M487.9 365.1h0M489.7 365.5h0M492.4 365.2h0M493.2 365h0M495.2 365.2h0M496.1 365.8h0M497.8 365.8h0M499.3 366h0M500.8 365.8h0M501.6 365.7h0M502.9 365.6h0M504.7 366h0M505.9 365.2h0M507.4 365.7h0M510.3 365.6h0M510.9 366h0M512.3 365.1h0M486.5 366.3h0M487.8 366.3h0M493.4 366.3h0M494.3 366.5h0M498.1 366.6h0M500.1 366.4h0M501.5 366.7h0M502 366.7h0M505.1 366.6h0M506.5 366.7h0M507.3 366.8h0M509.6 367.2h0M510.4 366.3h0M512.2 367.2h0M513 366.4h0M476.6 262.3h0M478.8 268.3h0M500.5 363.3h0M501.6 362.9h0M507.5 363.5h0M510.1 363.8h0M511.8 363.5h0M501.6 364.5h0M503 364.8h0M503.9 364.5h0M505.9 364.6h0M507.4 364.5h0M508.1 364.5h0M510.1 364.2h0M510.8 364.8h0M512.4 364.5h0M500.2 365.8h0M503.5 366.3h0M505.4 365.7h0M506.6 366.3h0M507.4 366.1h0M508.8 365.3h0M511.9 365.3h0M513.6 366.2h0M499.7 367.1h0M503.2 366.7h0M505.6 367.3h0M506.7 366.8h0M508.6 367.3h0M510.2 367h0M511.1 367.6h0M501.5 351h0M502.2 354h0M506 356.2h0M506.7 359.9h0M512 357h0M512.7 359.2h0M509 359.9h0M500 359.2h0M513.9 372h0M514.5 372.4h0M514.8 371h0M515.2 371h0M516 370.9h0M516.3 371.1h0M516.7 371.5h0M517.4 371.9h0M517.5 371.2h0M518 372.5h0M518.8 372.4h0M519.3 372.3h0M519.8 372.4h0M519.9 372.6h0M520.5 372.4h0M521 371.7h0M521.4 371.7h0M521.8 371h0M522.5 372.5h0M523 372.3h0M523.3 372.4h0M523.6 372.3h0M524.2 371.2h0M524.5 372h0M525 371.8h0M525.7 371.7h0M525.9 371.9h0M526.4 371.4h0M526.9 371.7h0M527.3 372.3h0M528.1 371.8h0M528.5 373h0M528.7 371.2h0M529.5 372.8h0M529.9 371.3h0M530.2 372.9h0M530.9 372.8h0M531.1 372.9h0M531.6 372.6h0M532 373.2h0M532.6 372.6h0M532.9 372.4h0M533.6 372.4h0M533.9 372.7h0M534.4 371.7h0M534.8 372.6h0M535.2 371.6h0M535.6 372.5h0M536.3 372.3h0M536.6 372.1h0M537.2 371.4h0M537.5 373.4h0M538 371.9h0M538.5 372.5h0M538.9 372.3h0M539.5 373.1h0M539.8 372h0M540.5 373.4h0M541 372.3h0M541.5 372h0M541.7 372.4h0M542.5 373h0M542.7 372.8h0M543.4 371.9h0M543.8 372.1h0M544.1 372h0M544.5 372.2h0M544.9 372.3h0M545.4 373.1h0M546.1 371.4h0M546.7 371.9h0M547 372.7h0M547.4 372.1h0M547.9 371.8h0M548.6 371.7h0M549 372h0M549.2 372.4h0M549.6 371.8h0M550.2 372.5h0M550.9 373.7h0M551 372.7h0M551.5 373.4h0M552 373.6h0M552.6 371.9h0M552.8 372.2h0M553.7 372h0M554 372.5h0M554.4 373.4h0M554.8 373.3h0M555.5 373.8h0M557.8 373.6h0M559.5 373.4h0M561.4 372.8h0M564 372.9h0M566.5 372.7h0M568.7 373.3h0M569.9 374h0M571.2 372.9h0M573.1 373h0M578.1 373h0M581.3 373.9h0M584.8 373.8h0M556.7 374.3h0M559 374.4h0M560.3 374.9h0M562.5 374.5h0M563.7 374.3h0M565 375.2h0M567.4 374.5h0M570.8 374.9h0M572.2 374.5h0M574.6 375.4h0M576 375.5h0M576.8 375.4h0M579.8 375.4h0M581.4 374.3h0M582.2 374.4h0M584.3 374.2h0M586.3 374.9h0M587.3 375.5h0M589.6 375.1h0M594.3 374.8h0M597.3 375.5h0M557.8 376.9h0M559.5 376.5h0M562.8 375.9h0M565.2 376.3h0M566.4 375.8h0M571.5 375.7h0M573.4 376.6h0M574.7 376h0M576.7 376.6h0M578.1 376.6h0M580.1 376.3h0M581.4 376.3h0M583.1 375.9h0M584.5 376.8h0M587.3 376.4h0M588.5 376.6h0M591.4 376.8h0M593.6 375.7h0M595.4 376.9h0M596.8 376.3h0M558.6 377.1h0M561 377.4h0M562.5 377.3h0M563.4 377.7h0M565 378.2h0M571.1 377.5h0M571.9 377.9h0M583.7 377.8h0M585.7 377.2h0M589.1 377.5h0M591.7 378.2h0M592.1 377.8h0M593.8 377.6h0M595.6 377.8h0M598.4 378.4h0M599.1 378.5h0M595.9 379.9h0M597.5 379h0M598.3 380.3h0M599.2 381.4h0M564.6 367.4h0M571 368.6h0M574.7 367.4h0M577 367.7h0M579.2 368.2h0M583.7 370.7h0M589.7 370.7h0M592.7 371.2h0M523.2 381.3h0M526.9 382.1h0M538.9 382.8h0M540.4 383.6h0M544.1 385.4h0M546.3 385.1h0M547.8 381.6h0M550.5 380.6h0M551.6 382.4h0M553.5 385.1h0M557.5 384.2h0M559 380.9h0M560.5 379.4h0M564.3 385.7h0M566.5 385.4h0M569.5 385.4h0M568 388.3h0M572.5 389.1h0M573.2 381.6h0M574.7 386.1h0M576.2 389.8h0M577.7 385.4h0M580 387.6h0M581.5 385.4h0M583.7 386.9h0M584.5 390.6h0M585.9 385.4h0M588.2 386.9h0M589.7 387.6h0M591.5 391.6h0M591.2 384.2h0M593.4 381.6h0M595.7 385.4h0M597.9 387.6h0M600 388.3h0M582.2 380.1h0M587.4 380.1h0M649.9 351.2h0M650.8 361.7h0M646.9 371.3h0M651.6 375.4h0M647.8 377.8h0M649.6 380.2h0M646.6 382.6h0M649.6 383.2h0M607.7 368.3h0M609.9 368.3h0M591.6 391.9h0M599.3 390.4h0M605.9 391.9h0M586.2 386.2h0M631 380.2h0M628 378.4h0M610.7 392.8h0M613.1 394.6h0M614.9 396.4h0M611.9 398.2h0M613.1 400.3h0M616.7 397.6h0M619.7 395.2h0M622.1 396.4h0M624.5 395.2h0M626.9 395.8h0M629.2 395.2h0M626.3 398.2h0M628 399.4h0M630.4 398.2h0M632.8 398.4h0M635.2 398.8h0M623.3 402h0M631.4 402.6h0M635.8 402.9h0M637.6 401.2h0M640.2 398.8h0M620.9 398.2h0M644.8 404.7h0M642.4 406.8h0M643 412.3h0M644.8 413.5h0M597.3 372.3h0M606.6 372.2h0M596.3 375.5h0M598.3 374.9h0M601.4 374.6h0M602.3 375.5h0M605.5 374.6h0M595.8 376.4h0M598.1 377.5h0M606 377.1h0M607.2 375.9h0M610.3 376.5h0M597.1 377.7h0M598.2 378.4h0M602.4 379.3h0M604.4 378.2h0M607.2 378.3h0M610.4 379.2h0M594.7 379.7h0M597.9 380.5h0M600.7 380.9h0M604 381h0M607.7 379.9h0M610.1 379.7h0M596.7 382.1h0M599.8 383h0M603.2 381.5h0M610.3 382.1h0M593.9 383.8h0M595.3 384h0M597.4 384.2h0M601.2 384.8h0M603.4 384.8h0M606.1 384.9h0M607.9 383.2h0M610 384.6h0M598.6 385.9h0M600.1 386.3h0M603 386.2h0M604.5 386.5h0M597.7 387.2h0M600.3 388.6h0M602.2 387.5h0M603.9 388.3h0M600.9 388.8h0M603 389.1h0M625.8 379.3h0M628.2 379.7h0M617.7 381.5h0M623.4 380.5h0M625.2 380.5h0M627.1 381.7h0M629.7 381.7h0M630.6 380.6h0M633.4 381.7h0M641.3 380.8h0M611.3 383.1h0M612.7 382.7h0M615.2 382.1h0M616.2 383.1h0M618.5 382.3h0M620.9 383h0M622.3 383h0M625 382h0M625.7 383.5h0M630.6 383.1h0M632.3 383.5h0M634 383.3h0M635.3 382.9h0M641.8 383.6h0M644.1 382.2h0M646.6 383.5h0M611.5 383.8h0M613.2 383.9h0M616.3 384.9h0M619.5 383.8h0M621 384.8h0M622.6 384h0M626 384.3h0M627.4 384.3h0M630.8 384.7h0M633.7 383.9h0M636.6 385.1h0M640 384.6h0M643.6 385.1h0M646.3 385.2h0M612.6 385.5h0M614.5 386.3h0M618.8 385.8h0M621.3 386h0M624 385.8h0M627 386.6h0M627.5 386.7h0M631.5 386.8h0M633.1 385.6h0M638.3 386h0M642 386.5h0M642.8 386h0M645.7 385.5h0M614.3 387.4h0M615.8 387.5h0M617 387.4h0M619 387.6h0M622.2 387.9h0M623 387.2h0M626 388.5h0M629.5 388h0M633.5 387.5h0M635.3 387.6h0M636.6 387.8h0M637.8 388.5h0M640.4 387.9h0M642.7 387.8h0M643.6 387.4h0M612.7 389.3h0M615.2 389h0M619.2 388.9h0M620.5 388.8h0M623.1 389.6h0M630.4 389.1h0M631.6 388.7h0M635.2 388.7h0M637.9 389h0M640.8 389.2h0M643.1 389.7h0M619.1 390.5h0M621.9 391.2h0M622.9 390.9h0M627.7 391.5h0M633.4 390.3h0M636.2 390.5h0M640.6 390.5h0M644.5 391.1h0M645.9 391.4h0M641.9 392.6h0M643.3 393h0M611.1 392.5h0M613.1 394.6h0M614.8 395.9h0M617.1 397.2h0M620.4 395.9h0M623.8 395.6h0M626.1 396.1h0M630.1 394.6h0M625.1 399.1h0M628.6 399.4h0M630.5 398.8h0M632.4 397.7h0M636.2 398.1h0M621.2 397.5h0"/>
<path class="ax" d="M415.6 254.4V421.3H662.8M442.7 421.3v2.6M475.9 421.3v2.6M509.1 421.3v2.6M542.3 421.3v2.6M575.4 421.3v2.6M608.6 421.3v2.6M641.8 421.3v2.6M415.6 278h-2.6M415.6 309.1h-2.6M415.6 340.2h-2.6M415.6 371.3h-2.6M415.6 402.4h-2.6"/>
<text class="t" font-size="6.9" text-anchor="middle" transform="translate(442.7,430.7) scale(1.05,1)">30</text><text class="t" font-size="6.9" text-anchor="middle" transform="translate(475.9,430.7) scale(1.05,1)">40</text><text class="t" font-size="6.9" text-anchor="middle" transform="translate(509.1,430.7) scale(1.05,1)">50</text><text class="t" font-size="6.9" text-anchor="middle" transform="translate(542.3,430.7) scale(1.05,1)">60</text><text class="t" font-size="6.9" text-anchor="middle" transform="translate(575.4,430.7) scale(1.05,1)">70</text><text class="t" font-size="6.9" text-anchor="middle" transform="translate(608.6,430.7) scale(1.05,1)">80</text><text class="t" font-size="6.9" text-anchor="middle" transform="translate(641.8,430.7) scale(1.05,1)">90</text><text class="t" font-size="6.9" text-anchor="end" transform="translate(409.4,280.5) scale(1.05,1)">6</text><text class="t" font-size="6.9" text-anchor="end" transform="translate(409.4,311.6) scale(1.05,1)">4</text><text class="t" font-size="6.9" text-anchor="end" transform="translate(409.4,342.7) scale(1.05,1)">2</text><text class="t" font-size="6.9" text-anchor="end" transform="translate(409.4,373.8) scale(1.05,1)">0</text><text class="t" font-size="6.9" text-anchor="end" transform="translate(409.4,404.9) scale(1.05,1)">−2</text>
<text class="t" font-size="7.4" text-anchor="middle" transform="translate(538.2,440.4) scale(1.1,1)">PF</text>
<text class="t" font-size="8" text-anchor="middle" transform="translate(381.8,338.4) scale(1,1) rotate(-90)">SHAP value for</text>
<text class="t" font-size="8" text-anchor="middle" transform="translate(393,340) scale(1,1) rotate(-90)">PF</text>
<text class="c" text-anchor="middle" x="528.6" y="469.6">(d)</text>
</g>
<g id="plot-f">
<path class="p" transform="scale(1.3913,1)" stroke-width="2.3" d="M46.8 547.1h0M48.7 547.1h0M50.3 547.1h0M51.9 547.1h0M75.3 534.1h0M77.1 537.4h0M78.7 537.1h0M80.9 536.2h0M82.5 535.9h0M84.1 536.6h0M86.8 535.1h0M88.4 535.1h0M89.5 538.6h0M76.1 541.1h0M71.8 544.1h0M70.2 544.5h0M104.2 525.1h0M101.8 528.8h0M105.1 533.2h0M99.7 535.9h0M105.1 535.9h0M71.2 556.5h0M72.8 557.5h0M75.3 561h0M87.3 552.6h0M90 553.1h0M92.7 552.3h0M98.1 552.3h0M82.5 552.3h0M79.3 550.8h0M75.3 541.9h0M76.6 543h0M71.5 544.3h0M73.2 544.1h0M75.2 544.5h0M76.6 544.6h0M77.9 543.8h0M70.2 545.4h0M71.8 545.5h0M74.4 546.1h0M76.5 545.5h0M62.6 547.7h0M65.7 547.8h0M67.3 547h0M69.7 547.4h0M70.7 546.8h0M71.7 546.6h0M73.2 547.5h0M76.4 547.6h0M77.4 546.4h0M60.1 549.1h0M61.2 548.6h0M63.6 548.4h0M64.5 549.5h0M66 548.8h0M67.7 548.5h0M68.6 548.9h0M70.3 549.5h0M71.1 549.6h0M74.3 548.7h0M74.9 549h0M76.8 548.6h0M62.7 550.4h0M63.7 550.4h0M65.7 549.8h0M68.2 550.6h0M69.5 551h0M73.9 551.2h0M74.5 550.1h0M81.4 539.8h0M82.8 538.9h0M84.5 540.2h0M85.9 539.5h0M87.1 538.9h0M89 538.9h0M90.9 538.8h0M93.7 540.1h0M94.9 539.4h0M96.4 539.4h0M98.2 539.9h0M100.8 540.1h0M101.4 539.1h0M102.6 539.4h0M78.8 540.6h0M80.5 541.3h0M81.4 540.6h0M84 540.9h0M84.8 541.5h0M85.7 541h0M87.4 540.5h0M88.2 541.2h0M89.2 541.2h0M90.8 540.3h0M92.4 540.3h0M94.5 541.5h0M95 540.7h0M96.7 541.3h0M99 540.5h0M100.5 540.6h0M101.5 541.1h0M102.3 540.6h0M104.8 540.7h0M105.7 540.3h0M76.7 542.5h0M77.1 542h0M78.5 542.2h0M80.2 542.4h0M81.5 542.3h0M82.4 542.9h0M83.7 542.4h0M85.6 541.6h0M87.8 542.8h0M89.1 542.8h0M90.3 541.6h0M91.6 542.2h0M92.9 542.1h0M93.5 542.1h0M94.8 542.9h0M95.8 542.4h0M97.4 541.6h0M98.7 542.3h0M99.1 542.3h0M100.8 542.1h0M101.5 542.4h0M102.8 541.9h0M103.7 542.5h0M104.8 542.9h0M106.2 542.3h0M107.3 542.8h0M109.5 542.8h0M111.2 542.9h0M112.2 542.7h0M77 543.5h0M78.6 543.1h0M79.8 543.4h0M80.8 543.3h0M81.8 543.1h0M85.2 543.3h0M86.2 543.6h0M87.7 543.9h0M88.2 543h0M89.9 543.5h0M90.7 543.8h0M93.2 543.1h0M94 543.7h0M95.2 544.3h0M96.5 544.4h0M97.5 543.4h0M99.2 544.3h0M100.1 543.1h0M101 543.1h0M102.5 544.2h0M103.4 543.1h0M105 543.3h0M105.8 543.3h0M106.5 544.2h0M108.4 544.2h0M108.8 543.4h0M110.5 543.8h0M112 543h0M78.8 544.7h0M79.9 544.6h0M81.4 545.3h0M82.2 545.7h0M83.2 544.7h0M85.7 544.6h0M86.8 544.4h0M87.9 545h0M89.3 545.3h0M90.5 545.2h0M91.5 544.6h0M92.7 545.1h0M93.6 545.3h0M95.7 545.2h0M98.7 545.6h0M99.8 544.8h0M100.2 544.9h0M101.6 545.4h0M102.4 545.6h0M104.4 544.5h0M106.4 545.5h0M107.3 545h0M108.2 544.4h0M109.5 544.9h0M111 545.5h0M111.8 545.1h0M76.9 546.2h0M78.5 546.9h0M79.5 546.9h0M80.1 547h0M81.6 546.7h0M82.3 547.1h0M83.5 545.8h0M84.6 547.1h0M87.3 547h0M88.3 546.4h0M89.4 546.7h0M90.4 546.5h0M92 546.8h0M93.1 545.9h0M95.8 546.3h0M96.4 546.9h0M98.1 547h0M99.1 546.5h0M99.6 545.8h0M102.5 546h0M103.9 546h0M104.5 547h0M106.1 546.7h0M106.5 546.8h0M107.8 546.4h0M108.9 547.1h0M110 546.1h0M111.4 546.4h0M76.7 547.6h0M77.6 548.6h0M79.5 548.5h0M80.5 548.1h0M82.6 548.4h0M83.7 547.8h0M84.4 548.3h0M85.6 547.7h0M87.2 547.6h0M87.7 548.2h0M89.1 548.2h0M90.1 548.3h0M91.8 548.3h0M92.6 548h0M93.8 548.4h0M95 547.6h0M95.5 547.4h0M97.2 548.4h0M98.6 548.1h0M99.1 548.4h0M101 547.4h0M101.5 547.8h0M104 548h0M104.7 547.9h0M106.3 547.3h0M107.1 548.4h0M108.3 548.5h0M110 548.2h0M111.1 547.7h0M111.8 548.1h0M77.9 549.9h0M81.1 549.7h0M83.7 548.7h0M85.2 549.5h0M86.4 549.8h0M86.9 549.4h0M89.4 548.8h0M91.1 549.3h0M93.5 548.6h0M94 549.6h0M95.3 548.8h0M96.9 549.8h0M97.3 549h0M100.8 549h0M102.3 548.9h0M103.7 548.9h0M104.6 549.7h0M106 548.9h0M106.6 549.4h0M107.7 549.3h0M109.7 549.4h0M110.4 548.6h0M111.7 549.6h0M84.4 550.2h0M85.3 550.6h0M86.7 550.1h0M88.3 550.7h0M89.5 550.5h0M91.4 551.2h0M92.8 550.6h0M107.4 550.2h0M108.3 550.7h0M109.6 551.2h0M110.5 551.1h0M111.7 550.7h0M116.8 506.7h0M104.8 524.7h0M104.8 532.9h0M105.1 535.9h0M138.6 549h0M141.8 550.1h0M133.8 550.8h0M127.3 551.6h0M123.6 551.6h0M151.5 534.7h0M153.1 534.1h0M154.7 534.7h0M156.3 535.9h0M150.4 537.4h0M151 539.6h0M152 536.6h0M156.9 534.4h0M160.6 535.4h0M163.1 534.4h0M157.4 526.6h0M159 527.7h0M160.6 526.9h0M162.2 528.4h0M163.8 527.7h0M165.5 528.7h0M167.1 528.1h0M168.7 526.9h0M157.9 529.9h0M160.1 530.6h0M162.8 530.6h0M164.9 531.4h0M168.7 531.1h0M171.4 531.4h0M173.5 531.1h0M175.1 530.6h0M174.6 529.1h0M172.4 529.9h0M169.8 529.1h0M166.5 526.6h0M169.2 525.7h0M163.3 514.9h0M165.5 514.2h0M162.8 517.2h0M163.5 519.4h0M165.5 521.7h0M160.1 522.4h0M172.8 513.2h0M174.1 522.4h0M175.1 523.2h0M176.1 521.7h0M120.3 571h0M129.5 574.3h0M135.1 575h0M130.5 581.5h0M112.1 540.6h0M113.1 540.7h0M113.5 540.5h0M115.3 540.5h0M116 540.7h0M117 540.3h0M118 540.6h0M119.2 540.7h0M111.1 541.6h0M111.9 541.8h0M113.5 541.4h0M114.1 541.7h0M115.9 541.7h0M116.6 541.8h0M118.1 542.1h0M118.9 541.9h0M120.1 542.2h0M122 541.9h0M110.4 542.8h0M111.5 542.8h0M112.8 542.7h0M114.1 543.6h0M114.6 542.9h0M115.7 542.7h0M117 543.4h0M118.2 542.8h0M119.1 542.6h0M120.1 543.5h0M121.1 543.1h0M122.1 543.1h0M123.8 542.5h0M125.1 543.5h0M125.8 542.6h0M110.4 544.8h0M111.1 544.6h0M112.5 544.9h0M113.2 544.8h0M114.2 544.1h0M115.8 544.4h0M116.9 545h0M117.6 544.8h0M118.7 544.6h0M119.5 543.8h0M121.7 544.5h0M123.2 544.4h0M123.7 544.9h0M125.5 544.8h0M125.9 544h0M111 546.2h0M111.9 546h0M113.2 546.2h0M114.2 546h0M114.8 545.4h0M115.7 546.2h0M116.7 545.5h0M118.2 545.5h0M119.3 545.6h0M120.6 545.5h0M121.8 546.2h0M122.1 546.2h0M123.4 545.2h0M124.5 545.3h0M126.2 546.1h0M111.2 546.5h0M112.2 547.5h0M113.3 547.1h0M114.6 547.4h0M115.4 546.7h0M116.2 546.6h0M117.9 546.7h0M118.9 547.1h0M120.2 547.1h0M121.8 546.9h0M122.8 546.9h0M124.2 547.4h0M125.5 547.3h0M110.7 548.4h0M111.8 548.1h0M112.7 548.9h0M113.7 548.2h0M115.2 547.8h0M115.9 548.6h0M117.3 548.6h0M117.9 548.1h0M119.1 547.7h0M121.5 547.9h0M122.4 548.3h0M123.2 548.3h0M124.6 548.2h0M125.8 548h0M110.4 549.1h0M110.8 550h0M112.6 549.8h0M113.3 549.9h0M114.7 549.5h0M115.4 549.7h0M116.9 550.1h0M118 549.8h0M118.5 550.1h0M119.8 549.5h0M121.9 549.3h0M116.3 550.7h0M117.1 550.6h0M134.5 541.2h0M135.8 540.8h0M136.9 541.1h0M138.1 540.5h0M139.7 540.2h0M141.2 541h0M142.4 540.7h0M144.2 540.3h0M145.1 541.3h0M147.9 540.4h0M129.8 542.8h0M131.3 542.9h0M133.8 541.8h0M135.7 541.7h0M137 541.6h0M137.7 542.2h0M139.1 542h0M140.8 541.8h0M142.7 542.5h0M143.9 542.2h0M145.3 542.1h0M147.4 541.8h0M126.1 544h0M127.3 544h0M128.7 543.4h0M129.5 544.3h0M130.9 543.4h0M131.7 543.6h0M134.6 543.2h0M136 544.2h0M137.6 543.3h0M139.1 543.9h0M140 543.3h0M141.5 544.5h0M142.7 544.6h0M144.5 543.6h0M146.8 544.3h0M147.9 543.4h0M124.7 545.2h0M126 544.9h0M127.3 545.1h0M128.4 545.4h0M129.7 545.9h0M131.9 544.8h0M132.5 545.9h0M133.9 545.6h0M148 544.8h0M125.7 547.6h0M127 547h0M128.7 546.8h0M129.5 546.5h0M131.7 546.7h0M125.3 548.6h0M224.2 498.3h0M202.2 505.2h0M172.7 513.4h0M185.8 516.4h0M212 506.2h0M214.4 508.2h0M216.5 507.3h0M231.2 512.8h0M232.4 520h0M231.5 523h0M232.1 525.4h0M234.5 527.9h0M233.3 529.5h0M235.1 530.4h0M238 532.8h0M230.9 532h0M230.4 533.6h0M169.5 526.2h0M174.2 522.1h0M175.4 521.3h0M176.6 523.8h0M180.1 522.1h0M187.8 519.7h0M190.2 523h0M192.5 528.7h0M184.3 522.1h0M173 530.4h0M192.5 525.4h0M194.3 524.6h0M196.1 525.4h0M197.9 521.3h0M199 520.5h0M200.2 522.1h0M202 521.3h0M201.4 524.6h0M201.4 526.2h0M203.2 520.5h0M196.7 527.9h0M194.3 523.8h0M198.5 519.7h0M206.1 519.3h0M206.1 523.3h0M209.7 523h0M210.3 522.1h0M216.2 519.7h0M217.4 522.1h0M215.6 523h0M216.2 525.4h0M217.9 526.2h0M219.7 527.1h0M216.8 527.9h0M218.5 529.5h0M217.9 531.2h0M222.1 531.2h0M223.3 531.5h0M219.7 516.4h0M219.1 520h0M217.4 537.4h0M220.3 537.4h0M220.9 540.2h0M224.4 539.1h0M226.2 540.2h0M228 539.7h0M229.2 539.4h0M225.6 541.5h0M229.8 542.2h0M217.4 543.8h0M220.9 544.3h0M227.4 546.3h0M225.4 548.4h0M222.1 552.5h0M225 552.9h0M226.8 551.2h0M226.2 554.2h0M223.5 558.3h0M180.9 525.7h0M181.7 525.4h0M183.6 525.3h0M184.5 524.9h0M186.6 524.9h0M188.7 525.5h0M178.5 526.5h0M180.3 527.6h0M181.5 527.7h0M183.7 526.9h0M187.3 527.8h0M188.8 527.5h0M190.2 526.9h0M179.1 528.1h0M180.4 528.8h0M185.2 529.4h0M186.1 529h0M187.8 528.3h0M188.9 529.2h0M175.5 530.6h0M177.4 530.9h0M179.2 529.7h0M180.1 530h0M181.4 530.3h0M182.3 530.2h0M183.8 531h0M185.8 529.9h0M186.8 529.7h0M188.3 530.7h0M189.7 530.4h0M181 532.2h0M181.9 531.8h0M184 531.8h0M184.8 532.5h0M186.3 531.6h0M187.1 531.6h0M189.4 532h0M180.9 534.2h0M182.7 533.1h0M183.7 534.1h0M185.8 533.4h0M187.4 533.9h0M189.3 532.9h0M169.3 530.4h0M169.6 530.8h0M170.1 529.9h0M170.7 530.1h0M171.3 530h0M172.1 530.1h0M172.5 530.3h0M173.4 528.4h0M173.7 530.5h0M174.4 529.2h0M174.7 530.4h0M175.2 529.9h0M176.2 528.4h0M176.4 528.8h0M204.8 510.8h0M205.9 511h0M207.3 510.8h0M211.1 512h0M212.7 511.5h0M214.2 511.5h0M215.1 512h0M204.3 513.3h0M205.3 512.7h0M206.5 512.4h0M209.7 512.7h0M211.3 512.9h0M212.2 513.3h0M213.5 512.8h0M214.8 513.4h0M206.2 514.9h0M207.1 514h0M208.5 514.1h0M210.2 514h0M211.1 515.3h0M213.3 514.9h0M214.1 515.5h0M215.2 514.5h0M207.1 515.9h0M208.5 516.1h0M209.8 516h0M211 516.1h0M211.9 516.9h0M213.3 517h0M214.8 516.4h0M224.6 564h0M228.1 563.7h0M228.9 564.7h0M229.8 565.8h0M227.4 573.1h0M226.6 574.1h0M225.1 575.5h0M225.3 583.2h0M231.7 584.9h0M224.7 589.1h0M234.9 588.5h0M233.6 590.9h0M234.3 592.6h0M229.8 593.7h0M231.5 594.3h0M223.5 597.9h0M227.2 606.6h0M220.4 608.9h0M231.1 609.5h0M235.5 610.7h0M227.9 611.8h0M235.5 616h0M220.6 618.3h0M222.1 618.3h0M233.5 620h0M227.2 623.3h0M231.6 624.7h0M235.5 627h0M224 631.7h0M227.7 630.6h0M229.2 632.2h0M231 639.7h0M231.6 642.1h0"/>
<path class="ax" d="M51.5 490.8V649.4H344.8M89.7 649.4v2.6M132.3 649.4v2.6M174.9 649.4v2.6M217.5 649.4v2.6M260.1 649.4v2.6M302.7 649.4v2.6M51.5 507.4h-2.6M51.5 541.3h-2.6M51.5 575.4h-2.6M51.5 609.4h-2.6M51.5 643.4h-2.6"/>
<text class="t" font-size="6.7" text-anchor="middle" transform="translate(89.7,658.7) scale(1.3,1)">30</text><text class="t" font-size="6.7" text-anchor="middle" transform="translate(132.3,658.7) scale(1.3,1)">40</text><text class="t" font-size="6.7" text-anchor="middle" transform="translate(174.9,658.7) scale(1.3,1)">50</text><text class="t" font-size="6.7" text-anchor="middle" transform="translate(217.5,658.7) scale(1.3,1)">60</text><text class="t" font-size="6.7" text-anchor="middle" transform="translate(260.1,658.7) scale(1.3,1)">70</text><text class="t" font-size="6.7" text-anchor="middle" transform="translate(302.7,658.7) scale(1.3,1)">80</text><text class="t" font-size="6.7" text-anchor="end" transform="translate(44.5,509.8) scale(1.3,1)">1</text><text class="t" font-size="6.7" text-anchor="end" transform="translate(44.5,543.7) scale(1.3,1)">0</text><text class="t" font-size="6.7" text-anchor="end" transform="translate(44.5,577.8) scale(1.3,1)">−1</text><text class="t" font-size="6.7" text-anchor="end" transform="translate(44.5,611.8) scale(1.3,1)">−2</text><text class="t" font-size="6.7" text-anchor="end" transform="translate(44.5,645.8) scale(1.3,1)">−3</text>
<text class="t" font-size="8.3" text-anchor="middle" transform="translate(197.7,668.6) scale(1.31,1)">GOU</text>
<text class="t" font-size="7.5" text-anchor="middle" transform="translate(11,571) scale(1.3,1) rotate(-90)">SHAP value for</text>
<text class="t" font-size="7.5" text-anchor="middle" transform="translate(25.1,571.3) scale(1.3,1) rotate(-90)">GOU</text>
</g>
<g id="plot-e">
<path class="p" transform="scale(1,1)" stroke-width="2.9" d="M430.2 617.4h0M430.8 619.6h0M436.1 615.1h0M438.7 615.1h0M440.6 618.4h0M443.6 609.9h0M448.4 609.9h0M449.9 609.9h0M452.1 609.9h0M455.1 609.9h0M457.4 609.9h0M459.6 609.9h0M461.1 608.4h0M460.7 611.7h0M446.2 615.1h0M447.7 615.9h0M449.6 617.7h0M460.7 618.6h0M457.1 621.1h0M456.2 624.1h0M454.7 628.6h0M458.1 628.6h0M454.4 632.6h0M453.6 633.1h0M447.7 628.6h0M447.7 630.8h0M448.4 635.6h0M449.1 636.1h0M464.8 622.6h0M467.5 623.6h0M464.1 627.8h0M466.6 631.1h0M468.6 631.1h0M473.1 606.6h0M475 606.6h0M475.6 624.1h0M475.6 626.6h0M476.5 635.6h0M478.6 631.6h0M479 633.5h0M480.5 609.9h0M482.8 609.9h0M481.3 613.6h0M483.5 615.1h0M481.3 618.1h0M479.8 623.3h0M480.5 625.6h0M479 627.8h0M482 627.8h0M484.3 622.6h0M486.5 622.6h0M488.8 623.3h0M485 629.3h0M486.5 630.8h0M483.5 632.3h0M489.5 634.6h0M488 627.1h0M490.3 626.3h0M492.5 624.1h0M494 626.3h0M496.2 627.8h0M491 620.4h0M491.7 618.1h0M489.5 615.9h0M487.3 615.1h0M485.8 612.1h0M488 609.9h0M490.3 609.1h0M492.5 607.7h0M494.7 606.9h0M495.5 609.9h0M493.2 612.1h0M496.2 636.8h0M497.7 615.1h0M497 618.1h0M499.2 620.4h0M505.2 633.5h0M514.2 624.1h0M502.9 605.2h0M494.1 605.4h0M502.1 606.8h0M502.8 606.5h0M491.6 607.4h0M501.6 607.6h0M492.6 609.2h0M497.6 610.6h0M499.4 611h0M500.3 609.9h0M502.8 609.3h0M490.9 611.4h0M497.8 612.4h0M488.6 613.2h0M489.5 613.7h0M492.2 614.3h0M499.7 613.5h0M501.7 613.7h0M491 616.3h0M493 616h0M495.7 616.6h0M497.3 615h0M499.7 615.8h0M494.6 617.4h0M496.9 617.2h0M501.2 618.4h0M498.4 618.9h0M500.1 620.5h0M501.5 619.3h0M499.4 621.3h0M500.4 622.2h0M502.8 624.9h0M508.9 601.4h0M510.4 600.6h0M512.9 601.3h0M517.3 601.3h0M519.3 600.8h0M506.2 602.7h0M507.4 603.6h0M510.1 603.8h0M511.6 602.2h0M513.2 602.5h0M515.3 602.2h0M505.2 605.5h0M507.4 603.9h0M508.4 604.3h0M511.1 604.4h0M512.3 605.4h0M514.3 604.7h0M519.4 604.7h0M510.6 605.8h0M511.9 606.9h0M516.1 607h0M517.8 606.3h0M504.5 607.5h0M509.3 608h0M511.4 609h0M513 608.6h0M514 607.7h0M516.9 608.4h0M519.4 608.6h0M504.3 609.5h0M507.4 610.4h0M510.4 610.6h0M510.9 609.5h0M513.7 609h0M515 610.5h0M518.4 610.7h0M504.9 611h0M509.6 612.1h0M511.6 611.7h0M512.5 612.1h0M514 611.5h0M516.2 611.1h0M519 611.1h0M502.9 614.2h0M509.9 612.9h0M512.4 613.8h0M513.4 612.9h0M516.4 612.9h0M505.3 615.4h0M506.7 615.5h0M508.4 615.7h0M510.3 614.4h0M512.6 614.7h0M514 615.6h0M502.9 617h0M504.9 617.3h0M511.8 617h0M513.9 616.6h0M515.3 617.4h0M505 618.6h0M505.9 618.2h0M508.7 617.7h0M510.4 618.4h0M513.2 619.1h0M516.9 619.4h0M519.2 617.9h0M505.4 620.4h0M507.2 619.4h0M509.3 621.1h0M511.8 619.8h0M513.2 619.8h0M504.3 622.8h0M506 621.2h0M509 621.7h0M514.4 622.3h0M517.3 622.9h0M518.7 621.5h0M508.3 623.8h0M516.1 623.3h0M518 623.5h0M503 627.9h0M519.4 599h0M521.1 599.5h0M523.4 600.5h0M526.1 600.2h0M527.6 600.2h0M518.2 601.1h0M520.4 600.7h0M526.8 601.5h0M528 601.2h0M529.9 602h0M520.7 603.8h0M521.2 602.8h0M523.5 602.4h0M526.4 602.6h0M529.2 603.6h0M532.4 603.7h0M521.5 603.9h0M522.4 604.8h0M524 605.3h0M527.3 605.3h0M530.4 604h0M533 605.5h0M533.9 605.1h0M535.6 605.5h0M520.3 607.1h0M521.8 606.6h0M523.1 606h0M525.1 605.7h0M527.1 606.9h0M530.2 606.9h0M530.8 606.5h0M533.3 605.8h0M535.5 606.3h0M539.2 605.6h0M521.6 608.5h0M524.4 608.1h0M532 607.4h0M534.3 608.5h0M536.3 608.2h0M538.1 607.3h0M539.5 607.4h0M520.2 609.9h0M522.4 610h0M523.9 609.4h0M525.9 609.2h0M529.8 609.5h0M533.4 609.2h0M536.5 609.9h0M539 610.4h0M521.3 611.9h0M522.2 611.4h0M524.4 611.2h0M526 610.9h0M527.9 610.9h0M529.9 610.9h0M531.8 611.4h0M534.2 611.7h0M535.6 610.6h0M537.8 610.7h0M539.9 610.6h0M522.5 613.7h0M524.4 613.4h0M525 613h0M527.1 612.8h0M528.7 612.6h0M530.6 612.4h0M534 612.5h0M534.4 612.7h0M537.3 612.3h0M538.2 612.6h0M520.7 614.2h0M525 614.5h0M526.1 614.6h0M529.2 614.2h0M530.7 614.9h0M531.5 614.1h0M534.3 615.4h0M535.6 614.1h0M537.2 615.3h0M520.1 616.7h0M521.8 616.8h0M523.5 615.5h0M525.7 616.2h0M527.7 616.3h0M529.5 616.7h0M530.6 616.8h0M533.1 615.8h0M535 616.2h0M536.7 616.2h0M539 615.6h0M520.7 617.4h0M522.4 617.6h0M524.7 617.4h0M528.9 617.6h0M532.9 617.4h0M533.6 618.5h0M536.2 617.5h0M519.9 619.3h0M523.4 619.3h0M513.7 624.3h0M516.7 623.5h0M526.4 623.5h0M536.2 622.8h0M583.2 604.8h0M585.5 606.3h0M587.7 607.5h0M581 602.6h0M540.3 573.2h0M550.1 573.2h0M554.1 575.7h0M556.3 574.9h0M557.8 572.3h0M550.7 579.7h0M560.1 580.2h0M561.3 583.9h0M567.5 577.6h0M567.5 580.2h0M572 577.9h0M559 567.2h0M563.8 566.3h0M565.3 567.8h0M567.5 566h0M569.5 563.3h0M569 567.2h0M574.6 563h0M577.3 562.2h0M579.1 561.5h0M579.1 564.5h0M577.3 566.3h0M582.8 576.4h0M583.2 579.4h0M583.2 581.7h0M591.5 580.2h0M593.4 586.2h0M547.1 586.6h0M548.9 589.1h0M544.7 590.6h0M544.4 592.9h0M553.8 590.6h0M563.1 587.2h0M566.1 587.7h0M561.6 590.6h0M593.4 597.7h0M600.1 598.6h0M543.6 613.1h0M544.7 616.5h0M550.1 614.6h0M554.1 612.3h0M554.8 610.8h0M558.6 610.8h0M589.2 620.8h0M595.7 628.8h0M539.6 644h0M565.8 592.9h0M572.7 592.4h0M576.5 592.1h0M578.4 592.7h0M561.9 593.1h0M564.5 593.5h0M565.9 593.5h0M567.9 593.4h0M569.3 593.3h0M571.4 593.3h0M573.4 593.7h0M574.8 593.1h0M576.7 593.6h0M578.5 594.2h0M580.5 593.6h0M561.6 595.2h0M563.8 594.9h0M564.6 594.9h0M567 594.9h0M569.2 594.8h0M572.5 594.8h0M574.9 595.9h0M575.9 595.5h0M578.5 595.3h0M579.4 595.4h0M582.9 595h0M559.4 597.5h0M561.1 596.3h0M562.3 597.5h0M564.4 596.7h0M565.8 596.3h0M568 597.2h0M569.4 597.6h0M571.5 596.7h0M574 597.2h0M574.7 597.3h0M576.7 596.6h0M578.9 596.6h0M579.9 597h0M584.4 596.8h0M542 598h0M544 599.1h0M553 598.5h0M554.6 598.7h0M558.2 599h0M559.7 598.9h0M562.1 599h0M564 598.7h0M565 598.7h0M566.8 598.1h0M569.4 598.1h0M570.1 598.5h0M573.6 598.1h0M576.4 598.5h0M577.7 598.3h0M579 598.1h0M581.7 598h0M583.9 598.7h0M585.4 598.8h0M586.9 598.6h0M541.5 599.7h0M542.5 599.6h0M545.1 600.1h0M546.4 599.6h0M548.8 600.7h0M550.3 600h0M551.6 600.5h0M553.9 600.7h0M557.7 600.6h0M558.8 600.2h0M560.5 599.9h0M562.1 600.3h0M565.8 600.3h0M567.6 599.6h0M584.7 600.6h0M588.3 600.5h0M542.5 600.9h0M544.2 601.9h0M548.6 602h0M550.5 602.3h0M552.1 602.3h0M554.4 600.9h0M556.4 601.9h0M558 602h0M559.4 601.4h0M562.8 601.8h0M587.1 601.4h0M588.5 601.8h0M540.3 602.6h0M542.4 603.6h0M545.1 602.9h0M547.6 602.6h0M549.7 602.6h0M551.5 602.9h0M554.2 602.7h0M557.7 602.7h0M587.4 603.3h0M540.6 604.4h0M542.2 604.9h0M544.3 604.3h0M545.1 605.2h0M547.4 605.2h0M548.8 604.5h0M550.9 605h0M552 604h0M554 605.1h0M541.4 606.8h0M540.2 607.3h0M541.7 607.4h0M591.4 580.3h0M593.5 586.2h0M593.5 597.8h0M590.6 601.1h0M600.4 598.4h0M595.9 628.5h0M590 620.8h0M594.7 607.8h0M596.5 607.2h0M598.3 606.1h0M600 607.2h0M595.9 611.4h0M598.3 613.1h0M600.6 613.7h0M603 612.6h0M598.9 615.5h0M601.2 616.1h0M603.6 615.5h0M605.9 614.9h0M597.7 617.3h0M600 618.5h0M602.4 617.9h0M604.8 618.5h0M607.1 617.9h0M609.5 617.3h0M607.7 620.2h0M609.5 620.8h0M614.2 621.4h0M612.4 618.5h0M614.8 617.9h0M616.6 617.9h0M604.8 604.3h0M606.5 603.7h0M608.3 603.1h0M610.1 602.5h0M611.8 603.7h0M609.5 599.6h0M607.7 605.5h0M610.7 605.5h0M613 604.9h0M614.2 606.6h0M616 607.8h0M617.8 607.2h0M605.4 607.2h0M608.9 610.2h0M607.7 612h0M614.8 613.7h0M617.8 613.1h0M614.2 597.8h0M612.8 594.8h0M619.5 597.2h0M624 594h0M617.2 601.9h0M619.5 600.7h0M621.3 601.3h0M623.1 600.7h0M624.8 601.9h0M626.6 601.3h0M628.4 601.9h0M630.7 601.9h0M630.7 603.7h0M621.9 603.7h0M624.8 604.3h0M627.8 604.9h0M630.7 605.5h0M625.4 607.2h0M627.2 607.8h0M630.2 608.4h0M625.4 609.6h0M621.9 610.5h0M624.8 613.1h0M621.3 616.9h0M624.2 617.9h0M626.6 616.1h0M629 616.7h0M631.3 616.4h0M627.6 614.9h0M622.5 622h0M627.8 621.2h0M625.4 620.2h0M631.9 560.6h0M638.7 560.6h0M633.5 563h0M634.9 564.7h0M631.3 566.1h0M636.1 566.5h0M638.7 566.8h0M635.5 568.9h0M646.9 566.1h0M639.6 571.6h0M642 572.4h0M636.6 574.2h0M635.5 575.4h0M639 575.4h0M641.4 574.8h0M644.1 574.8h0M636.6 577.1h0M639.6 577.7h0M632.7 579.8h0M633.9 581.3h0M642.6 580.7h0M632.5 583h0M634.3 583.6h0M636.1 583h0M633.1 584.8h0M635.5 585.4h0M637.8 584.8h0M640.2 584.2h0M642 583.6h0M636.6 587.2h0M636.1 588.9h0M633.1 591.9h0M634.9 593.1h0M637.2 593.7h0M639.6 592.5h0M642 591.9h0M632.3 594.8h0M633.7 594.2h0M632.5 596.6h0M636.1 597.2h0M640.2 597.2h0M637.8 594.8h0M649.9 583h0M655 581.3h0M643.7 604.9h0M644.6 605.5h0M653.4 604.3h0M643.7 624.1h0M648.2 485.4h0M632.7 494.1h0M641.6 500h0M633.5 535.5h0M631.3 550.1h0M638.7 554.7h0M644.6 556.5h0M634.3 557.9h0M637.2 557.1h0M640.2 557.7h0"/>
<path class="ax" d="M419.4 477.4V652.2H667.1M441.7 652.2v2.6M487.4 652.2v2.6M533.1 652.2v2.6M578.8 652.2v2.6M624.5 652.2v2.6M419.4 483.5h-2.6M419.4 503.8h-2.6M419.4 524.1h-2.6M419.4 544.4h-2.6M419.4 564.6h-2.6M419.4 584.9h-2.6M419.4 605.2h-2.6M419.4 625.5h-2.6M419.4 645.8h-2.6"/>
<text class="t" font-size="7.3" text-anchor="middle" transform="translate(441.7,661.9) scale(1,1)">30</text><text class="t" font-size="7.3" text-anchor="middle" transform="translate(487.4,661.9) scale(1,1)">40</text><text class="t" font-size="7.3" text-anchor="middle" transform="translate(533.1,661.9) scale(1,1)">50</text><text class="t" font-size="7.3" text-anchor="middle" transform="translate(578.8,661.9) scale(1,1)">60</text><text class="t" font-size="7.3" text-anchor="middle" transform="translate(624.5,661.9) scale(1,1)">70</text><text class="t" font-size="7.3" text-anchor="end" transform="translate(412.9,486.2) scale(1,1)">3.0</text><text class="t" font-size="7.3" text-anchor="end" transform="translate(412.9,506.5) scale(1,1)">2.5</text><text class="t" font-size="7.3" text-anchor="end" transform="translate(412.9,526.8) scale(1,1)">2.0</text><text class="t" font-size="7.3" text-anchor="end" transform="translate(412.9,547.1) scale(1,1)">1.5</text><text class="t" font-size="7.3" text-anchor="end" transform="translate(412.9,567.3) scale(1,1)">1.0</text><text class="t" font-size="7.3" text-anchor="end" transform="translate(412.9,587.6) scale(1,1)">0.5</text><text class="t" font-size="7.3" text-anchor="end" transform="translate(412.9,607.9) scale(1,1)">0.0</text><text class="t" font-size="7.3" text-anchor="end" transform="translate(412.9,628.2) scale(1,1)">−0.5</text><text class="t" font-size="7.3" text-anchor="end" transform="translate(412.9,648.5) scale(1,1)">−1.0</text>
<text class="t" font-size="7.6" text-anchor="middle" transform="translate(541.9,672.4) scale(1.1,1)">BE</text>
<text class="t" font-size="8.3" text-anchor="middle" transform="translate(377.3,565.5) scale(1,1) rotate(-90)">SHAP value for</text>
<text class="t" font-size="8.3" text-anchor="middle" transform="translate(389.1,566.3) scale(1,1) rotate(-90)">BE</text>
<text class="c" text-anchor="middle" x="527.2" y="694">(e)</text>
</g>
<g id="plot-g">
<path class="p" transform="scale(1.5238,1)" stroke-width="2.1" d="M108.2 772.6h0M110.4 785.6h0M118.5 765.4h0M124.6 766.6h0M126.8 765.9h0M123.6 770.6h0M121.5 778.9h0M129 778.9h0M137.4 748.2h0M138.4 749.3h0M141.3 748.2h0M143.3 747.8h0M141.5 751.2h0M144 751.2h0M151.6 749.3h0M154 751.2h0M166 750.8h0M132 761.7h0M133 754.9h0M149.1 755.7h0M151.1 757.2h0M153.6 756.1h0M154.5 757.9h0M150.1 759.1h0M161.9 775.6h0M155.5 779.6h0M158.8 778.6h0M157.5 781.1h0M159 782.6h0M155 784.1h0M156.5 783.3h0M158.5 784.8h0M160.4 783.6h0M158 785.6h0M157 782.3h0M159.4 784.1h0M156 784.8h0M131.5 756.1h0M133 756h0M134.3 756.1h0M143.1 755.8h0M144.8 756.6h0M145.7 755.9h0M131.4 757.6h0M132.8 757.4h0M133.6 757.9h0M134.5 758.3h0M135.3 758h0M137.6 758.2h0M138.9 757.4h0M139.4 757.3h0M140.5 757.4h0M141.6 757.5h0M144 758h0M145 758.3h0M146.3 757.2h0M131.2 759.3h0M132 758.7h0M133.2 758.6h0M136.9 759.5h0M138.4 759.6h0M139.3 758.9h0M140.4 758.8h0M141.4 758.8h0M142.4 758.6h0M143.8 759.5h0M144.7 759.4h0M145.2 759.4h0M150.6 761.9h0M151.5 761.7h0M152.8 761.5h0M153.3 761.6h0M164.7 761.4h0M166.1 761.9h0M146.5 763.1h0M150.3 762.2h0M151.4 762.3h0M152.1 762.4h0M152.9 762.4h0M154 762.4h0M163.9 762.7h0M164.7 763h0M165.1 762.6h0M166.3 762.9h0M146.2 764.3h0M147.5 763.9h0M149.3 764.2h0M149.9 763.6h0M151.5 764.1h0M153.5 764.1h0M154.2 764.3h0M163.1 763.9h0M164.4 763.6h0M164.8 763.7h0M165.7 763.7h0M144.8 765.4h0M146 765.5h0M146.5 765.3h0M147.8 765.5h0M148.3 764.6h0M149.3 765.1h0M150.1 765.2h0M151.2 765.4h0M151.8 765h0M152.7 765.3h0M153.7 765.3h0M154.7 764.5h0M163 764.9h0M163.4 765.5h0M164.8 765.3h0M165.1 765.3h0M166.6 765.3h0M167.4 764.8h0M145.3 766.5h0M146 765.9h0M147.5 766.7h0M149 766.6h0M150.6 765.8h0M151.8 766h0M152.6 766.1h0M153.3 766.4h0M154.6 766.2h0M155.4 766.4h0M161.4 766.6h0M162.6 766.3h0M163.2 765.7h0M164 766.3h0M164.9 766.1h0M165.8 766.6h0M166.5 765.8h0M167.7 766h0M168.7 766.4h0M169.2 765.7h0M170.3 766.6h0M145.7 767.6h0M146.6 767.5h0M147.8 767.6h0M148.5 767.1h0M149.5 766.9h0M150.6 767.3h0M151.3 767.9h0M152.4 767.8h0M153.1 767.4h0M153.9 767.8h0M154.8 767.1h0M155.7 767.6h0M159.2 767h0M160.2 767.6h0M160.9 767.4h0M161.7 767.3h0M162.8 767.6h0M163.8 767.3h0M164.4 767.6h0M165.7 767.3h0M166.3 767.5h0M167 767.3h0M167.9 767.6h0M168.7 767.3h0M169.9 766.9h0M146.4 768.2h0M146.9 768.4h0M148 768.8h0M149.2 768.9h0M149.6 768.1h0M151.1 768.4h0M151.9 768.7h0M152.8 768.2h0M153.2 768.2h0M154.4 768.3h0M155.4 768.2h0M156.3 768.2h0M157.3 768.2h0M157.7 768.7h0M158.7 768.8h0M159.8 768.7h0M160.7 768.9h0M161.2 769h0M162.2 768.5h0M163.2 768.4h0M165 768.9h0M148.4 770h0M149.7 769.9h0M151 769.9h0M152.3 769.9h0M153 770h0M153.7 769.9h0M154.8 769.7h0M155.6 770h0M156.7 769.5h0M157.2 769.4h0M158.3 770h0M159 769.7h0M160.4 769.7h0M160.7 769.4h0M161.6 769.2h0M162.6 770.2h0M163.8 769.4h0M164.5 770.1h0M152.7 771.3h0M154.1 770.6h0M154.9 770.8h0M156 770.6h0M157.1 770.9h0M158.1 771.2h0M158.9 771.3h0M159.7 771h0M160.7 770.5h0M161.3 771.1h0M162.2 770.5h0M163.3 771.3h0M164.1 770.5h0M155.8 772.1h0M156.3 771.9h0M157.5 772.3h0M158.3 772.5h0M160.2 771.8h0M161 772.1h0M162.2 772.5h0M157.2 773.7h0M157.6 773.3h0M159 773.6h0M159.7 773.2h0M166 750.8h0M188.1 755.4h0M193 763.6h0M191.8 766.9h0M186.4 771.1h0M187.4 770.6h0M189.9 770.3h0M196.9 771.4h0M201.3 770.3h0M207.7 766.9h0M210.2 767.4h0M181.5 769.6h0M171.4 764.9h0M173 764.7h0M173.8 764.8h0M174.6 764.5h0M175.4 764.9h0M170.4 765.4h0M171 765.8h0M171.9 765.2h0M173.5 765.4h0M174.5 766.2h0M175.1 766h0M176.5 766h0M177.4 765.7h0M179 766h0M179.9 765.9h0M181 765.6h0M181.8 766.1h0M183.8 765.4h0M170.5 767h0M171.4 767.1h0M172.7 767.5h0M174 767.2h0M174.4 767.4h0M175.3 767.3h0M176.7 766.8h0M177.3 766.9h0M178.4 766.7h0M179.7 766.8h0M180.4 767.3h0M181.7 766.6h0M182.3 766.8h0M183.5 767.2h0M184.6 766.9h0M173.4 768.4h0M174 768.9h0M175.4 768.5h0M175.9 768.8h0M177.4 768.8h0M178.5 768.5h0M179.1 768.1h0M180.1 768.2h0M181 768.1h0M182.3 768.2h0M183.3 768.6h0M175.4 770.2h0M176.8 770.1h0M151.7 708.6h0M154.5 712.3h0M151.7 714.9h0M42.9 779.2h0M186.4 836h0"/>
<path class="ax" d="M51.5 702.5V843.1H333M112.2 843.1v2.6M174.1 843.1v2.6M236.1 843.1v2.6M298.4 843.1v2.6M51.5 723.5h-2.6M51.5 745.4h-2.6M51.5 767.3h-2.6M51.5 789.3h-2.6M51.5 811.1h-2.6M51.5 833h-2.6"/>
<text class="t" font-size="6.5" text-anchor="middle" transform="translate(112.2,850.9) scale(1.42,1)">−1.0</text><text class="t" font-size="6.5" text-anchor="middle" transform="translate(174.1,850.9) scale(1.42,1)">−0.5</text><text class="t" font-size="6.5" text-anchor="middle" transform="translate(236.1,850.9) scale(1.42,1)">0.0</text><text class="t" font-size="6.5" text-anchor="middle" transform="translate(298.4,850.9) scale(1.42,1)">0.5</text><text class="t" font-size="6.5" text-anchor="end" transform="translate(44.8,725.9) scale(1.42,1)">2</text><text class="t" font-size="6.5" text-anchor="end" transform="translate(44.8,747.8) scale(1.42,1)">1</text><text class="t" font-size="6.5" text-anchor="end" transform="translate(44.8,769.7) scale(1.42,1)">0</text><text class="t" font-size="6.5" text-anchor="end" transform="translate(44.8,791.7) scale(1.42,1)">−1</text><text class="t" font-size="6.5" text-anchor="end" transform="translate(44.8,813.5) scale(1.42,1)">−2</text><text class="t" font-size="6.5" text-anchor="end" transform="translate(44.8,835.4) scale(1.42,1)">−3</text>
<text class="t" font-size="6.7" text-anchor="middle" transform="translate(192,858.4) scale(1.5,1)">GCF</text>
<text class="t" font-size="6.7" text-anchor="middle" transform="translate(13.1,773.1) scale(1.68,1) rotate(-90)">SHAP value for</text>
<text class="t" font-size="6.7" text-anchor="middle" transform="translate(26.2,773.2) scale(1.68,1) rotate(-90)">GCF</text>
</g>
</svg>
</body></html>
